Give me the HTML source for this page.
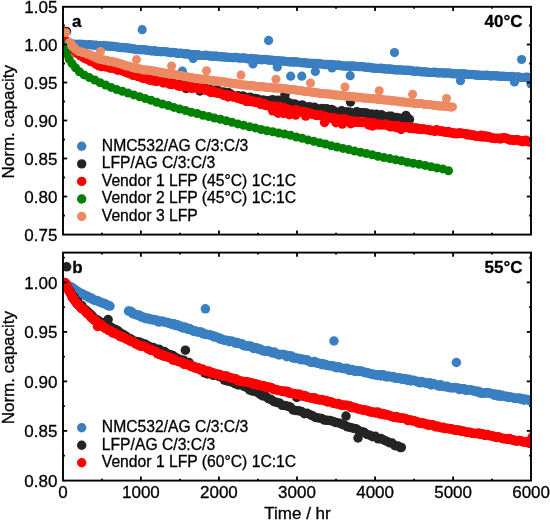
<!DOCTYPE html>
<html><head><meta charset="utf-8"><style>
html,body{margin:0;padding:0;background:#fff;}
svg{display:block;will-change:transform;font-family:"Liberation Sans",sans-serif;font-size:17px;fill:#000;}
text{stroke:#000;stroke-width:0.3px;}
</style></head><body>
<svg width="550" height="521" viewBox="0 0 550 521">
<defs>
<clipPath id="ca"><rect x="63" y="6.8" width="468" height="227.8"/></clipPath>
<clipPath id="cb"><rect x="63" y="252.6" width="468" height="228"/></clipPath>
</defs>
<g fill="#3a7fc1" clip-path="url(#ca)"><circle cx="64.0" cy="43.6" r="4.6"/><circle cx="65.6" cy="43.6" r="4.6"/><circle cx="67.2" cy="43.9" r="4.6"/><circle cx="68.8" cy="44.1" r="4.6"/><circle cx="70.4" cy="44.1" r="4.6"/><circle cx="72.0" cy="43.9" r="4.6"/><circle cx="73.6" cy="44.6" r="4.6"/><circle cx="75.2" cy="44.1" r="4.6"/><circle cx="76.8" cy="44.8" r="4.6"/><circle cx="78.4" cy="44.4" r="4.6"/><circle cx="80.0" cy="44.2" r="4.6"/><circle cx="81.6" cy="44.5" r="4.6"/><circle cx="83.2" cy="44.4" r="4.6"/><circle cx="84.8" cy="45.0" r="4.6"/><circle cx="86.4" cy="44.9" r="4.6"/><circle cx="88.0" cy="44.8" r="4.6"/><circle cx="89.6" cy="44.6" r="4.6"/><circle cx="91.2" cy="44.8" r="4.6"/><circle cx="92.8" cy="45.1" r="4.6"/><circle cx="94.4" cy="45.3" r="4.6"/><circle cx="96.0" cy="45.1" r="4.6"/><circle cx="97.6" cy="45.5" r="4.6"/><circle cx="99.2" cy="45.5" r="4.6"/><circle cx="100.8" cy="45.8" r="4.6"/><circle cx="102.4" cy="45.5" r="4.6"/><circle cx="104.0" cy="45.4" r="4.6"/><circle cx="105.6" cy="46.0" r="4.6"/><circle cx="107.1" cy="45.9" r="4.6"/><circle cx="108.7" cy="46.2" r="4.6"/><circle cx="110.3" cy="46.3" r="4.6"/><circle cx="111.9" cy="46.2" r="4.6"/><circle cx="113.5" cy="46.5" r="4.6"/><circle cx="115.1" cy="46.6" r="4.6"/><circle cx="116.7" cy="47.1" r="4.6"/><circle cx="118.3" cy="47.1" r="4.6"/><circle cx="119.9" cy="47.3" r="4.6"/><circle cx="121.5" cy="47.7" r="4.6"/><circle cx="123.1" cy="47.3" r="4.6"/><circle cx="124.7" cy="47.8" r="4.6"/><circle cx="126.2" cy="47.9" r="4.6"/><circle cx="127.8" cy="47.8" r="4.6"/><circle cx="129.4" cy="48.6" r="4.6"/><circle cx="131.0" cy="48.3" r="4.6"/><circle cx="132.6" cy="49.0" r="4.6"/><circle cx="134.2" cy="48.9" r="4.6"/><circle cx="135.8" cy="49.4" r="4.6"/><circle cx="137.4" cy="49.6" r="4.6"/><circle cx="139.0" cy="49.4" r="4.6"/><circle cx="140.5" cy="49.9" r="4.6"/><circle cx="142.1" cy="49.5" r="4.6"/><circle cx="143.7" cy="49.7" r="4.6"/><circle cx="145.3" cy="50.1" r="4.6"/><circle cx="146.9" cy="50.1" r="4.6"/><circle cx="148.5" cy="50.4" r="4.6"/><circle cx="150.1" cy="50.7" r="4.6"/><circle cx="151.7" cy="50.9" r="4.6"/><circle cx="153.3" cy="51.0" r="4.6"/><circle cx="154.9" cy="50.7" r="4.6"/><circle cx="156.5" cy="51.5" r="4.6"/><circle cx="158.1" cy="51.6" r="4.6"/><circle cx="159.6" cy="51.4" r="4.6"/><circle cx="161.2" cy="51.8" r="4.6"/><circle cx="162.8" cy="51.5" r="4.6"/><circle cx="164.4" cy="51.7" r="4.6"/><circle cx="166.0" cy="51.8" r="4.6"/><circle cx="167.6" cy="52.0" r="4.6"/><circle cx="169.2" cy="52.3" r="4.6"/><circle cx="170.8" cy="52.8" r="4.6"/><circle cx="172.4" cy="52.4" r="4.6"/><circle cx="174.0" cy="52.7" r="4.6"/><circle cx="175.6" cy="52.7" r="4.6"/><circle cx="177.2" cy="53.5" r="4.6"/><circle cx="178.8" cy="53.3" r="4.6"/><circle cx="180.4" cy="53.1" r="4.6"/><circle cx="182.0" cy="53.4" r="4.6"/><circle cx="183.5" cy="53.5" r="4.6"/><circle cx="185.1" cy="54.2" r="4.6"/><circle cx="186.7" cy="53.7" r="4.6"/><circle cx="188.3" cy="53.8" r="4.6"/><circle cx="189.9" cy="54.7" r="4.6"/><circle cx="191.5" cy="54.6" r="4.6"/><circle cx="193.1" cy="54.5" r="4.6"/><circle cx="194.7" cy="54.9" r="4.6"/><circle cx="196.3" cy="55.1" r="4.6"/><circle cx="197.9" cy="54.7" r="4.6"/><circle cx="199.5" cy="55.5" r="4.6"/><circle cx="201.1" cy="55.5" r="4.6"/><circle cx="202.7" cy="55.5" r="4.6"/><circle cx="204.3" cy="55.5" r="4.6"/><circle cx="205.9" cy="55.2" r="4.6"/><circle cx="207.5" cy="55.5" r="4.6"/><circle cx="209.1" cy="56.0" r="4.6"/><circle cx="210.7" cy="55.9" r="4.6"/><circle cx="212.3" cy="56.4" r="4.6"/><circle cx="213.8" cy="56.1" r="4.6"/><circle cx="215.4" cy="56.1" r="4.6"/><circle cx="217.0" cy="56.2" r="4.6"/><circle cx="218.6" cy="56.8" r="4.6"/><circle cx="220.2" cy="56.6" r="4.6"/><circle cx="221.8" cy="56.9" r="4.6"/><circle cx="223.4" cy="56.9" r="4.6"/><circle cx="225.0" cy="57.1" r="4.6"/><circle cx="226.6" cy="57.0" r="4.6"/><circle cx="228.2" cy="57.4" r="4.6"/><circle cx="229.8" cy="57.5" r="4.6"/><circle cx="231.4" cy="57.3" r="4.6"/><circle cx="233.0" cy="57.8" r="4.6"/><circle cx="234.6" cy="57.3" r="4.6"/><circle cx="236.2" cy="57.4" r="4.6"/><circle cx="237.8" cy="58.0" r="4.6"/><circle cx="239.4" cy="58.1" r="4.6"/><circle cx="241.0" cy="58.1" r="4.6"/><circle cx="242.6" cy="58.1" r="4.6"/><circle cx="244.2" cy="57.8" r="4.6"/><circle cx="245.8" cy="58.4" r="4.6"/><circle cx="247.4" cy="58.8" r="4.6"/><circle cx="249.0" cy="58.8" r="4.6"/><circle cx="250.6" cy="58.4" r="4.6"/><circle cx="252.2" cy="58.6" r="4.6"/><circle cx="253.8" cy="58.9" r="4.6"/><circle cx="255.4" cy="58.9" r="4.6"/><circle cx="256.9" cy="59.4" r="4.6"/><circle cx="258.5" cy="59.2" r="4.6"/><circle cx="260.1" cy="59.7" r="4.6"/><circle cx="261.7" cy="59.8" r="4.6"/><circle cx="263.3" cy="59.6" r="4.6"/><circle cx="264.9" cy="59.3" r="4.6"/><circle cx="266.5" cy="59.6" r="4.6"/><circle cx="268.1" cy="60.2" r="4.6"/><circle cx="269.7" cy="60.1" r="4.6"/><circle cx="271.3" cy="60.2" r="4.6"/><circle cx="272.9" cy="60.3" r="4.6"/><circle cx="274.5" cy="60.7" r="4.6"/><circle cx="276.1" cy="60.6" r="4.6"/><circle cx="277.7" cy="60.5" r="4.6"/><circle cx="279.3" cy="60.8" r="4.6"/><circle cx="280.9" cy="61.1" r="4.6"/><circle cx="282.5" cy="61.0" r="4.6"/><circle cx="284.1" cy="61.2" r="4.6"/><circle cx="285.7" cy="61.5" r="4.6"/><circle cx="287.3" cy="61.5" r="4.6"/><circle cx="288.9" cy="61.9" r="4.6"/><circle cx="290.4" cy="62.0" r="4.6"/><circle cx="292.0" cy="61.6" r="4.6"/><circle cx="293.6" cy="62.3" r="4.6"/><circle cx="295.2" cy="61.7" r="4.6"/><circle cx="296.8" cy="62.1" r="4.6"/><circle cx="298.4" cy="62.1" r="4.6"/><circle cx="300.0" cy="62.5" r="4.6"/><circle cx="301.6" cy="62.8" r="4.6"/><circle cx="303.2" cy="62.8" r="4.6"/><circle cx="304.8" cy="62.5" r="4.6"/><circle cx="306.4" cy="63.3" r="4.6"/><circle cx="308.0" cy="63.4" r="4.6"/><circle cx="309.6" cy="63.1" r="4.6"/><circle cx="311.2" cy="63.5" r="4.6"/><circle cx="312.8" cy="63.3" r="4.6"/><circle cx="314.4" cy="63.4" r="4.6"/><circle cx="316.0" cy="63.5" r="4.6"/><circle cx="317.6" cy="63.3" r="4.6"/><circle cx="319.2" cy="63.8" r="4.6"/><circle cx="320.8" cy="63.8" r="4.6"/><circle cx="322.4" cy="64.1" r="4.6"/><circle cx="324.0" cy="64.6" r="4.6"/><circle cx="325.5" cy="64.7" r="4.6"/><circle cx="327.1" cy="64.3" r="4.6"/><circle cx="328.7" cy="64.8" r="4.6"/><circle cx="330.3" cy="64.4" r="4.6"/><circle cx="331.9" cy="65.1" r="4.6"/><circle cx="333.5" cy="64.7" r="4.6"/><circle cx="335.1" cy="65.4" r="4.6"/><circle cx="336.7" cy="65.3" r="4.6"/><circle cx="338.3" cy="64.9" r="4.6"/><circle cx="339.9" cy="65.3" r="4.6"/><circle cx="341.5" cy="65.9" r="4.6"/><circle cx="343.1" cy="65.9" r="4.6"/><circle cx="344.7" cy="66.0" r="4.6"/><circle cx="346.3" cy="66.2" r="4.6"/><circle cx="347.9" cy="65.9" r="4.6"/><circle cx="349.5" cy="66.5" r="4.6"/><circle cx="351.1" cy="65.9" r="4.6"/><circle cx="352.7" cy="66.1" r="4.6"/><circle cx="354.3" cy="66.2" r="4.6"/><circle cx="355.9" cy="66.4" r="4.6"/><circle cx="357.5" cy="66.6" r="4.6"/><circle cx="359.1" cy="66.7" r="4.6"/><circle cx="360.7" cy="66.7" r="4.6"/><circle cx="362.2" cy="66.7" r="4.6"/><circle cx="363.8" cy="66.8" r="4.6"/><circle cx="365.4" cy="67.3" r="4.6"/><circle cx="367.0" cy="67.4" r="4.6"/><circle cx="368.6" cy="67.2" r="4.6"/><circle cx="370.2" cy="67.6" r="4.6"/><circle cx="371.8" cy="68.1" r="4.6"/><circle cx="373.4" cy="67.9" r="4.6"/><circle cx="375.0" cy="68.4" r="4.6"/><circle cx="376.6" cy="68.4" r="4.6"/><circle cx="378.2" cy="68.4" r="4.6"/><circle cx="379.8" cy="68.3" r="4.6"/><circle cx="381.4" cy="68.2" r="4.6"/><circle cx="383.0" cy="68.9" r="4.6"/><circle cx="384.6" cy="68.5" r="4.6"/><circle cx="386.2" cy="69.2" r="4.6"/><circle cx="387.8" cy="69.2" r="4.6"/><circle cx="389.4" cy="68.9" r="4.6"/><circle cx="391.0" cy="69.2" r="4.6"/><circle cx="392.6" cy="69.4" r="4.6"/><circle cx="394.2" cy="69.9" r="4.6"/><circle cx="395.7" cy="69.7" r="4.6"/><circle cx="397.3" cy="70.1" r="4.6"/><circle cx="398.9" cy="69.8" r="4.6"/><circle cx="400.5" cy="69.9" r="4.6"/><circle cx="402.1" cy="70.1" r="4.6"/><circle cx="403.7" cy="70.3" r="4.6"/><circle cx="405.3" cy="70.2" r="4.6"/><circle cx="406.9" cy="70.4" r="4.6"/><circle cx="408.5" cy="70.2" r="4.6"/><circle cx="410.1" cy="70.5" r="4.6"/><circle cx="411.7" cy="70.9" r="4.6"/><circle cx="413.3" cy="71.1" r="4.6"/><circle cx="414.9" cy="71.4" r="4.6"/><circle cx="416.5" cy="71.1" r="4.6"/><circle cx="418.1" cy="71.0" r="4.6"/><circle cx="419.7" cy="71.6" r="4.6"/><circle cx="421.3" cy="71.8" r="4.6"/><circle cx="422.9" cy="71.8" r="4.6"/><circle cx="424.5" cy="72.0" r="4.6"/><circle cx="426.1" cy="71.9" r="4.6"/><circle cx="427.7" cy="72.3" r="4.6"/><circle cx="429.3" cy="72.4" r="4.6"/><circle cx="430.9" cy="72.5" r="4.6"/><circle cx="432.4" cy="72.5" r="4.6"/><circle cx="434.0" cy="72.0" r="4.6"/><circle cx="435.6" cy="72.4" r="4.6"/><circle cx="437.2" cy="72.9" r="4.6"/><circle cx="438.8" cy="72.8" r="4.6"/><circle cx="440.4" cy="73.0" r="4.6"/><circle cx="442.0" cy="72.5" r="4.6"/><circle cx="443.6" cy="73.2" r="4.6"/><circle cx="445.2" cy="73.1" r="4.6"/><circle cx="446.8" cy="72.9" r="4.6"/><circle cx="448.4" cy="73.1" r="4.6"/><circle cx="450.0" cy="73.2" r="4.6"/><circle cx="451.6" cy="73.3" r="4.6"/><circle cx="453.2" cy="74.0" r="4.6"/><circle cx="454.8" cy="73.6" r="4.6"/><circle cx="456.4" cy="73.9" r="4.6"/><circle cx="458.0" cy="74.0" r="4.6"/><circle cx="459.6" cy="73.6" r="4.6"/><circle cx="461.2" cy="73.9" r="4.6"/><circle cx="462.8" cy="74.0" r="4.6"/><circle cx="464.4" cy="73.9" r="4.6"/><circle cx="466.0" cy="74.2" r="4.6"/><circle cx="467.6" cy="74.6" r="4.6"/><circle cx="469.2" cy="74.4" r="4.6"/><circle cx="470.8" cy="74.6" r="4.6"/><circle cx="472.4" cy="74.4" r="4.6"/><circle cx="474.0" cy="74.6" r="4.6"/><circle cx="475.6" cy="75.2" r="4.6"/><circle cx="477.2" cy="74.9" r="4.6"/><circle cx="478.8" cy="75.4" r="4.6"/><circle cx="480.4" cy="75.0" r="4.6"/><circle cx="482.0" cy="75.6" r="4.6"/><circle cx="483.6" cy="75.4" r="4.6"/><circle cx="485.2" cy="75.4" r="4.6"/><circle cx="486.8" cy="75.2" r="4.6"/><circle cx="488.4" cy="75.6" r="4.6"/><circle cx="490.0" cy="75.8" r="4.6"/><circle cx="491.5" cy="76.1" r="4.6"/><circle cx="493.1" cy="75.5" r="4.6"/><circle cx="494.7" cy="75.9" r="4.6"/><circle cx="496.3" cy="75.8" r="4.6"/><circle cx="497.9" cy="75.9" r="4.6"/><circle cx="499.5" cy="76.4" r="4.6"/><circle cx="501.1" cy="76.4" r="4.6"/><circle cx="502.7" cy="76.0" r="4.6"/><circle cx="504.3" cy="76.6" r="4.6"/><circle cx="505.9" cy="76.3" r="4.6"/><circle cx="507.5" cy="76.5" r="4.6"/><circle cx="509.1" cy="76.7" r="4.6"/><circle cx="510.7" cy="76.6" r="4.6"/><circle cx="512.3" cy="76.4" r="4.6"/><circle cx="513.9" cy="77.1" r="4.6"/><circle cx="515.5" cy="77.3" r="4.6"/><circle cx="517.1" cy="76.8" r="4.6"/><circle cx="518.7" cy="76.8" r="4.6"/><circle cx="520.3" cy="77.5" r="4.6"/><circle cx="521.9" cy="77.5" r="4.6"/><circle cx="523.5" cy="77.6" r="4.6"/><circle cx="525.1" cy="77.4" r="4.6"/><circle cx="526.7" cy="77.1" r="4.6"/><circle cx="528.3" cy="77.4" r="4.6"/><circle cx="529.9" cy="77.7" r="4.6"/><circle cx="531.0" cy="77.6" r="4.6"/><circle cx="142.2" cy="29.7" r="4.6"/><circle cx="182.4" cy="71.2" r="4.6"/><circle cx="193.2" cy="58.6" r="4.6"/><circle cx="253.0" cy="64.0" r="4.6"/><circle cx="268.6" cy="40.4" r="4.6"/><circle cx="277.3" cy="67.0" r="4.6"/><circle cx="290.7" cy="76.2" r="4.6"/><circle cx="301.8" cy="76.2" r="4.6"/><circle cx="315.3" cy="71.4" r="4.6"/><circle cx="332.0" cy="68.0" r="4.6"/><circle cx="350.2" cy="75.7" r="4.6"/><circle cx="394.5" cy="52.6" r="4.6"/><circle cx="460.5" cy="80.7" r="4.6"/><circle cx="514.5" cy="82.0" r="4.6"/><circle cx="521.6" cy="59.5" r="4.6"/><circle cx="531.0" cy="84.0" r="4.6"/></g>
<g fill="#242424" clip-path="url(#ca)"><circle cx="66.4" cy="31.4" r="4.75"/><circle cx="64.0" cy="38.9" r="4.75"/><circle cx="65.7" cy="40.9" r="4.75"/><circle cx="67.4" cy="43.2" r="4.75"/><circle cx="69.2" cy="45.9" r="4.75"/><circle cx="71.0" cy="46.4" r="4.75"/><circle cx="72.9" cy="48.1" r="4.75"/><circle cx="74.8" cy="49.7" r="4.75"/><circle cx="77.0" cy="50.3" r="4.75"/><circle cx="79.2" cy="53.2" r="4.75"/><circle cx="81.4" cy="52.6" r="4.75"/><circle cx="83.7" cy="55.5" r="4.75"/><circle cx="86.0" cy="54.3" r="4.75"/><circle cx="88.4" cy="55.1" r="4.75"/><circle cx="90.7" cy="55.9" r="4.75"/><circle cx="93.1" cy="57.1" r="4.75"/><circle cx="95.4" cy="59.4" r="4.75"/><circle cx="97.8" cy="59.1" r="4.75"/><circle cx="100.2" cy="60.1" r="4.75"/><circle cx="102.6" cy="60.5" r="4.75"/><circle cx="104.9" cy="61.1" r="4.75"/><circle cx="107.3" cy="61.5" r="4.75"/><circle cx="109.7" cy="63.5" r="4.75"/><circle cx="112.1" cy="63.2" r="4.75"/><circle cx="114.5" cy="64.0" r="4.75"/><circle cx="116.9" cy="65.2" r="4.75"/><circle cx="119.3" cy="66.9" r="4.75"/><circle cx="121.7" cy="65.6" r="4.75"/><circle cx="124.1" cy="67.9" r="4.75"/><circle cx="126.5" cy="68.1" r="4.75"/><circle cx="128.9" cy="67.6" r="4.75"/><circle cx="131.3" cy="70.5" r="4.75"/><circle cx="133.7" cy="71.0" r="4.75"/><circle cx="136.1" cy="70.2" r="4.75"/><circle cx="138.5" cy="70.6" r="4.75"/><circle cx="140.9" cy="72.5" r="4.75"/><circle cx="143.3" cy="73.2" r="4.75"/><circle cx="145.8" cy="74.0" r="4.75"/><circle cx="148.2" cy="74.1" r="4.75"/><circle cx="150.6" cy="75.3" r="4.75"/><circle cx="153.0" cy="76.3" r="4.75"/><circle cx="155.4" cy="75.5" r="4.75"/><circle cx="157.8" cy="76.0" r="4.75"/><circle cx="160.3" cy="77.7" r="4.75"/><circle cx="162.7" cy="76.8" r="4.75"/><circle cx="165.1" cy="78.7" r="4.75"/><circle cx="167.5" cy="78.4" r="4.75"/><circle cx="169.9" cy="78.5" r="4.75"/><circle cx="172.4" cy="80.2" r="4.75"/><circle cx="174.8" cy="81.3" r="4.75"/><circle cx="177.2" cy="81.5" r="4.75"/><circle cx="179.6" cy="81.5" r="4.75"/><circle cx="182.1" cy="83.2" r="4.75"/><circle cx="184.5" cy="82.1" r="4.75"/><circle cx="186.9" cy="84.3" r="4.75"/><circle cx="189.4" cy="83.9" r="4.75"/><circle cx="191.8" cy="86.1" r="4.75"/><circle cx="194.2" cy="84.5" r="4.75"/><circle cx="196.7" cy="86.0" r="4.75"/><circle cx="199.1" cy="86.1" r="4.75"/><circle cx="201.5" cy="87.9" r="4.75"/><circle cx="204.0" cy="87.2" r="4.75"/><circle cx="206.4" cy="88.0" r="4.75"/><circle cx="208.8" cy="88.3" r="4.75"/><circle cx="211.3" cy="90.2" r="4.75"/><circle cx="213.7" cy="91.1" r="4.75"/><circle cx="216.2" cy="89.9" r="4.75"/><circle cx="218.6" cy="91.0" r="4.75"/><circle cx="221.0" cy="92.8" r="4.75"/><circle cx="223.5" cy="92.1" r="4.75"/><circle cx="225.9" cy="94.1" r="4.75"/><circle cx="228.3" cy="92.6" r="4.75"/><circle cx="230.7" cy="94.0" r="4.75"/><circle cx="233.1" cy="95.8" r="4.75"/><circle cx="235.6" cy="96.7" r="4.75"/><circle cx="238.0" cy="95.7" r="4.75"/><circle cx="240.4" cy="97.6" r="4.75"/><circle cx="242.9" cy="96.0" r="4.75"/><circle cx="245.3" cy="97.3" r="4.75"/><circle cx="247.8" cy="97.7" r="4.75"/><circle cx="250.2" cy="97.3" r="4.75"/><circle cx="252.7" cy="98.6" r="4.75"/><circle cx="255.2" cy="98.5" r="4.75"/><circle cx="257.6" cy="99.0" r="4.75"/><circle cx="260.1" cy="100.8" r="4.75"/><circle cx="262.6" cy="100.1" r="4.75"/><circle cx="265.1" cy="100.4" r="4.75"/><circle cx="267.6" cy="101.6" r="4.75"/><circle cx="270.1" cy="100.5" r="4.75"/><circle cx="272.6" cy="99.8" r="4.75"/><circle cx="275.1" cy="101.8" r="4.75"/><circle cx="277.6" cy="100.2" r="4.75"/><circle cx="280.0" cy="100.4" r="4.75"/><circle cx="282.5" cy="101.1" r="4.75"/><circle cx="285.0" cy="103.0" r="4.75"/><circle cx="287.5" cy="101.9" r="4.75"/><circle cx="289.9" cy="103.4" r="4.75"/><circle cx="292.3" cy="104.3" r="4.75"/><circle cx="294.7" cy="103.9" r="4.75"/><circle cx="297.2" cy="105.6" r="4.75"/><circle cx="299.6" cy="105.9" r="4.75"/><circle cx="302.1" cy="104.9" r="4.75"/><circle cx="304.5" cy="106.5" r="4.75"/><circle cx="307.0" cy="108.1" r="4.75"/><circle cx="309.4" cy="106.8" r="4.75"/><circle cx="311.9" cy="107.7" r="4.75"/><circle cx="314.4" cy="107.2" r="4.75"/><circle cx="316.9" cy="108.9" r="4.75"/><circle cx="319.3" cy="109.3" r="4.75"/><circle cx="321.8" cy="108.6" r="4.75"/><circle cx="324.3" cy="109.1" r="4.75"/><circle cx="326.8" cy="108.8" r="4.75"/><circle cx="329.2" cy="110.8" r="4.75"/><circle cx="331.7" cy="109.5" r="4.75"/><circle cx="334.2" cy="111.0" r="4.75"/><circle cx="336.6" cy="112.4" r="4.75"/><circle cx="339.1" cy="112.7" r="4.75"/><circle cx="341.6" cy="110.8" r="4.75"/><circle cx="344.1" cy="112.0" r="4.75"/><circle cx="346.6" cy="112.0" r="4.75"/><circle cx="349.1" cy="112.1" r="4.75"/><circle cx="351.6" cy="112.8" r="4.75"/><circle cx="354.1" cy="113.4" r="4.75"/><circle cx="356.6" cy="111.8" r="4.75"/><circle cx="359.1" cy="112.4" r="4.75"/><circle cx="361.6" cy="112.8" r="4.75"/><circle cx="364.1" cy="112.7" r="4.75"/><circle cx="366.5" cy="113.1" r="4.75"/><circle cx="369.0" cy="114.9" r="4.75"/><circle cx="371.5" cy="113.9" r="4.75"/><circle cx="374.0" cy="115.8" r="4.75"/><circle cx="376.5" cy="114.3" r="4.75"/><circle cx="378.9" cy="115.7" r="4.75"/><circle cx="381.4" cy="114.7" r="4.75"/><circle cx="383.9" cy="116.8" r="4.75"/><circle cx="386.4" cy="117.3" r="4.75"/><circle cx="388.8" cy="116.2" r="4.75"/><circle cx="391.3" cy="116.3" r="4.75"/><circle cx="393.8" cy="117.6" r="4.75"/><circle cx="396.3" cy="117.4" r="4.75"/><circle cx="398.7" cy="117.9" r="4.75"/><circle cx="401.2" cy="119.0" r="4.75"/><circle cx="403.7" cy="117.8" r="4.75"/><circle cx="406.2" cy="119.3" r="4.75"/><circle cx="408.7" cy="119.1" r="4.75"/><circle cx="409.5" cy="119.5" r="4.75"/><circle cx="285.0" cy="94.8" r="4.75"/><circle cx="350.5" cy="101.9" r="4.75"/><circle cx="406.0" cy="115.5" r="4.75"/><circle cx="186.0" cy="88.5" r="4.75"/><circle cx="200.0" cy="91.0" r="4.75"/></g>
<g fill="#ff0000" clip-path="url(#ca)"><circle cx="64.0" cy="39.1" r="4.75"/><circle cx="64.9" cy="41.0" r="4.75"/><circle cx="65.9" cy="41.4" r="4.75"/><circle cx="66.8" cy="42.8" r="4.75"/><circle cx="67.8" cy="43.6" r="4.75"/><circle cx="68.8" cy="44.8" r="4.75"/><circle cx="69.8" cy="46.4" r="4.75"/><circle cx="70.9" cy="46.7" r="4.75"/><circle cx="72.0" cy="48.5" r="4.75"/><circle cx="73.1" cy="48.7" r="4.75"/><circle cx="74.2" cy="50.7" r="4.75"/><circle cx="75.4" cy="50.9" r="4.75"/><circle cx="76.5" cy="53.0" r="4.75"/><circle cx="77.7" cy="53.2" r="4.75"/><circle cx="78.9" cy="53.8" r="4.75"/><circle cx="80.2" cy="55.7" r="4.75"/><circle cx="81.5" cy="55.0" r="4.75"/><circle cx="82.7" cy="55.8" r="4.75"/><circle cx="84.0" cy="57.8" r="4.75"/><circle cx="85.3" cy="58.4" r="4.75"/><circle cx="86.7" cy="59.2" r="4.75"/><circle cx="88.0" cy="58.6" r="4.75"/><circle cx="89.3" cy="60.0" r="4.75"/><circle cx="90.6" cy="61.3" r="4.75"/><circle cx="92.0" cy="61.5" r="4.75"/><circle cx="93.3" cy="62.0" r="4.75"/><circle cx="94.6" cy="62.3" r="4.75"/><circle cx="95.9" cy="64.2" r="4.75"/><circle cx="97.3" cy="64.1" r="4.75"/><circle cx="98.6" cy="65.6" r="4.75"/><circle cx="100.0" cy="64.6" r="4.75"/><circle cx="101.4" cy="66.6" r="4.75"/><circle cx="102.8" cy="65.3" r="4.75"/><circle cx="104.3" cy="66.2" r="4.75"/><circle cx="105.8" cy="67.0" r="4.75"/><circle cx="107.2" cy="66.4" r="4.75"/><circle cx="108.7" cy="66.8" r="4.75"/><circle cx="110.2" cy="68.2" r="4.75"/><circle cx="111.6" cy="67.3" r="4.75"/><circle cx="113.1" cy="68.1" r="4.75"/><circle cx="114.6" cy="68.4" r="4.75"/><circle cx="116.0" cy="68.6" r="4.75"/><circle cx="117.5" cy="70.1" r="4.75"/><circle cx="118.9" cy="69.9" r="4.75"/><circle cx="120.4" cy="69.4" r="4.75"/><circle cx="121.8" cy="69.9" r="4.75"/><circle cx="123.2" cy="71.2" r="4.75"/><circle cx="124.7" cy="71.2" r="4.75"/><circle cx="126.1" cy="72.2" r="4.75"/><circle cx="127.5" cy="72.8" r="4.75"/><circle cx="128.9" cy="73.0" r="4.75"/><circle cx="130.3" cy="73.8" r="4.75"/><circle cx="131.7" cy="73.7" r="4.75"/><circle cx="133.1" cy="75.3" r="4.75"/><circle cx="134.5" cy="74.7" r="4.75"/><circle cx="135.9" cy="75.1" r="4.75"/><circle cx="137.3" cy="76.2" r="4.75"/><circle cx="138.7" cy="76.7" r="4.75"/><circle cx="140.1" cy="76.4" r="4.75"/><circle cx="141.6" cy="76.9" r="4.75"/><circle cx="143.0" cy="78.5" r="4.75"/><circle cx="144.5" cy="77.5" r="4.75"/><circle cx="146.0" cy="78.3" r="4.75"/><circle cx="147.4" cy="78.2" r="4.75"/><circle cx="148.9" cy="80.0" r="4.75"/><circle cx="150.4" cy="79.9" r="4.75"/><circle cx="151.9" cy="80.5" r="4.75"/><circle cx="153.3" cy="80.8" r="4.75"/><circle cx="154.8" cy="79.7" r="4.75"/><circle cx="156.3" cy="81.4" r="4.75"/><circle cx="157.7" cy="80.6" r="4.75"/><circle cx="159.2" cy="80.6" r="4.75"/><circle cx="160.7" cy="81.1" r="4.75"/><circle cx="162.1" cy="81.2" r="4.75"/><circle cx="163.6" cy="82.9" r="4.75"/><circle cx="165.1" cy="82.0" r="4.75"/><circle cx="166.5" cy="82.4" r="4.75"/><circle cx="168.0" cy="82.5" r="4.75"/><circle cx="169.5" cy="84.1" r="4.75"/><circle cx="171.0" cy="84.3" r="4.75"/><circle cx="172.4" cy="84.4" r="4.75"/><circle cx="173.9" cy="84.3" r="4.75"/><circle cx="175.4" cy="84.2" r="4.75"/><circle cx="176.8" cy="84.9" r="4.75"/><circle cx="178.3" cy="85.8" r="4.75"/><circle cx="179.8" cy="86.2" r="4.75"/><circle cx="181.3" cy="85.4" r="4.75"/><circle cx="182.7" cy="85.5" r="4.75"/><circle cx="184.2" cy="86.3" r="4.75"/><circle cx="185.7" cy="86.9" r="4.75"/><circle cx="187.2" cy="86.1" r="4.75"/><circle cx="188.6" cy="86.2" r="4.75"/><circle cx="190.1" cy="86.8" r="4.75"/><circle cx="191.6" cy="88.3" r="4.75"/><circle cx="193.1" cy="87.9" r="4.75"/><circle cx="194.6" cy="87.0" r="4.75"/><circle cx="196.1" cy="87.4" r="4.75"/><circle cx="197.5" cy="88.1" r="4.75"/><circle cx="199.0" cy="89.2" r="4.75"/><circle cx="200.5" cy="88.2" r="4.75"/><circle cx="202.0" cy="88.1" r="4.75"/><circle cx="203.5" cy="89.0" r="4.75"/><circle cx="204.9" cy="89.3" r="4.75"/><circle cx="206.4" cy="90.1" r="4.75"/><circle cx="207.8" cy="89.8" r="4.75"/><circle cx="209.3" cy="90.6" r="4.75"/><circle cx="210.8" cy="91.8" r="4.75"/><circle cx="212.2" cy="90.8" r="4.75"/><circle cx="213.7" cy="92.1" r="4.75"/><circle cx="215.1" cy="92.7" r="4.75"/><circle cx="216.5" cy="92.2" r="4.75"/><circle cx="218.0" cy="93.3" r="4.75"/><circle cx="219.5" cy="93.1" r="4.75"/><circle cx="220.9" cy="93.6" r="4.75"/><circle cx="222.4" cy="94.5" r="4.75"/><circle cx="223.8" cy="95.2" r="4.75"/><circle cx="225.3" cy="94.8" r="4.75"/><circle cx="226.7" cy="94.7" r="4.75"/><circle cx="228.2" cy="96.0" r="4.75"/><circle cx="229.7" cy="95.9" r="4.75"/><circle cx="231.1" cy="95.5" r="4.75"/><circle cx="232.6" cy="96.7" r="4.75"/><circle cx="234.0" cy="97.1" r="4.75"/><circle cx="235.5" cy="96.6" r="4.75"/><circle cx="237.0" cy="97.2" r="4.75"/><circle cx="238.4" cy="98.6" r="4.75"/><circle cx="239.9" cy="98.7" r="4.75"/><circle cx="241.3" cy="99.2" r="4.75"/><circle cx="242.8" cy="98.9" r="4.75"/><circle cx="244.2" cy="99.2" r="4.75"/><circle cx="245.7" cy="99.0" r="4.75"/><circle cx="247.2" cy="99.2" r="4.75"/><circle cx="248.6" cy="100.8" r="4.75"/><circle cx="250.1" cy="101.4" r="4.75"/><circle cx="251.5" cy="100.7" r="4.75"/><circle cx="253.0" cy="101.3" r="4.75"/><circle cx="254.4" cy="101.9" r="4.75"/><circle cx="255.9" cy="102.4" r="4.75"/><circle cx="257.4" cy="102.0" r="4.75"/><circle cx="258.8" cy="102.0" r="4.75"/><circle cx="260.3" cy="102.8" r="4.75"/><circle cx="261.7" cy="104.4" r="4.75"/><circle cx="263.2" cy="103.6" r="4.75"/><circle cx="264.6" cy="104.0" r="4.75"/><circle cx="266.1" cy="105.4" r="4.75"/><circle cx="267.6" cy="105.3" r="4.75"/><circle cx="269.0" cy="106.1" r="4.75"/><circle cx="270.5" cy="106.2" r="4.75"/><circle cx="272.0" cy="106.6" r="4.75"/><circle cx="273.4" cy="106.6" r="4.75"/><circle cx="274.9" cy="106.2" r="4.75"/><circle cx="276.4" cy="107.1" r="4.75"/><circle cx="277.8" cy="107.9" r="4.75"/><circle cx="279.3" cy="106.6" r="4.75"/><circle cx="280.8" cy="108.5" r="4.75"/><circle cx="282.2" cy="107.4" r="4.75"/><circle cx="283.7" cy="107.5" r="4.75"/><circle cx="285.2" cy="108.8" r="4.75"/><circle cx="286.7" cy="109.3" r="4.75"/><circle cx="288.1" cy="109.3" r="4.75"/><circle cx="289.6" cy="110.0" r="4.75"/><circle cx="291.1" cy="110.5" r="4.75"/><circle cx="292.6" cy="110.7" r="4.75"/><circle cx="294.0" cy="111.1" r="4.75"/><circle cx="295.5" cy="110.1" r="4.75"/><circle cx="297.0" cy="110.1" r="4.75"/><circle cx="298.4" cy="111.8" r="4.75"/><circle cx="299.9" cy="112.1" r="4.75"/><circle cx="301.4" cy="111.4" r="4.75"/><circle cx="302.9" cy="111.4" r="4.75"/><circle cx="304.3" cy="111.8" r="4.75"/><circle cx="305.8" cy="112.5" r="4.75"/><circle cx="307.3" cy="112.6" r="4.75"/><circle cx="308.7" cy="113.7" r="4.75"/><circle cx="310.2" cy="113.3" r="4.75"/><circle cx="311.7" cy="113.9" r="4.75"/><circle cx="313.1" cy="114.4" r="4.75"/><circle cx="314.6" cy="114.4" r="4.75"/><circle cx="316.1" cy="115.3" r="4.75"/><circle cx="317.5" cy="115.5" r="4.75"/><circle cx="319.0" cy="114.9" r="4.75"/><circle cx="320.5" cy="115.0" r="4.75"/><circle cx="322.0" cy="115.4" r="4.75"/><circle cx="323.4" cy="115.8" r="4.75"/><circle cx="324.9" cy="117.4" r="4.75"/><circle cx="326.4" cy="116.8" r="4.75"/><circle cx="327.8" cy="117.7" r="4.75"/><circle cx="329.3" cy="117.4" r="4.75"/><circle cx="330.8" cy="118.2" r="4.75"/><circle cx="332.3" cy="118.7" r="4.75"/><circle cx="333.8" cy="117.6" r="4.75"/><circle cx="335.2" cy="118.4" r="4.75"/><circle cx="336.7" cy="118.9" r="4.75"/><circle cx="338.2" cy="119.4" r="4.75"/><circle cx="339.7" cy="119.6" r="4.75"/><circle cx="341.2" cy="119.1" r="4.75"/><circle cx="342.6" cy="119.4" r="4.75"/><circle cx="344.1" cy="119.0" r="4.75"/><circle cx="345.6" cy="119.1" r="4.75"/><circle cx="347.1" cy="119.8" r="4.75"/><circle cx="348.6" cy="120.4" r="4.75"/><circle cx="350.1" cy="121.3" r="4.75"/><circle cx="351.5" cy="120.8" r="4.75"/><circle cx="353.0" cy="121.5" r="4.75"/><circle cx="354.5" cy="121.5" r="4.75"/><circle cx="356.0" cy="121.2" r="4.75"/><circle cx="357.5" cy="122.3" r="4.75"/><circle cx="359.0" cy="122.3" r="4.75"/><circle cx="360.5" cy="121.9" r="4.75"/><circle cx="362.0" cy="122.4" r="4.75"/><circle cx="363.4" cy="122.4" r="4.75"/><circle cx="364.9" cy="122.1" r="4.75"/><circle cx="366.4" cy="122.4" r="4.75"/><circle cx="367.9" cy="123.6" r="4.75"/><circle cx="369.4" cy="122.5" r="4.75"/><circle cx="370.9" cy="123.0" r="4.75"/><circle cx="372.4" cy="122.9" r="4.75"/><circle cx="373.9" cy="123.1" r="4.75"/><circle cx="375.4" cy="124.2" r="4.75"/><circle cx="376.9" cy="124.8" r="4.75"/><circle cx="378.3" cy="124.0" r="4.75"/><circle cx="379.8" cy="124.9" r="4.75"/><circle cx="381.3" cy="124.4" r="4.75"/><circle cx="382.8" cy="124.9" r="4.75"/><circle cx="384.3" cy="124.3" r="4.75"/><circle cx="385.8" cy="124.1" r="4.75"/><circle cx="387.3" cy="125.6" r="4.75"/><circle cx="388.8" cy="125.3" r="4.75"/><circle cx="390.3" cy="125.4" r="4.75"/><circle cx="391.8" cy="125.8" r="4.75"/><circle cx="393.3" cy="126.2" r="4.75"/><circle cx="394.8" cy="125.8" r="4.75"/><circle cx="396.2" cy="126.5" r="4.75"/><circle cx="397.7" cy="125.7" r="4.75"/><circle cx="399.2" cy="127.0" r="4.75"/><circle cx="400.7" cy="126.9" r="4.75"/><circle cx="402.2" cy="127.0" r="4.75"/><circle cx="403.7" cy="126.7" r="4.75"/><circle cx="405.2" cy="127.2" r="4.75"/><circle cx="406.7" cy="127.0" r="4.75"/><circle cx="408.2" cy="127.7" r="4.75"/><circle cx="409.7" cy="127.0" r="4.75"/><circle cx="411.2" cy="127.5" r="4.75"/><circle cx="412.7" cy="127.6" r="4.75"/><circle cx="414.1" cy="128.7" r="4.75"/><circle cx="415.6" cy="128.4" r="4.75"/><circle cx="417.1" cy="128.1" r="4.75"/><circle cx="418.6" cy="129.3" r="4.75"/><circle cx="420.1" cy="128.7" r="4.75"/><circle cx="421.6" cy="129.3" r="4.75"/><circle cx="423.1" cy="129.0" r="4.75"/><circle cx="424.6" cy="129.3" r="4.75"/><circle cx="426.1" cy="129.7" r="4.75"/><circle cx="427.6" cy="129.7" r="4.75"/><circle cx="429.0" cy="129.7" r="4.75"/><circle cx="430.5" cy="130.7" r="4.75"/><circle cx="432.0" cy="130.4" r="4.75"/><circle cx="433.5" cy="130.7" r="4.75"/><circle cx="435.0" cy="131.3" r="4.75"/><circle cx="436.5" cy="129.8" r="4.75"/><circle cx="438.0" cy="130.6" r="4.75"/><circle cx="439.5" cy="130.8" r="4.75"/><circle cx="441.0" cy="131.5" r="4.75"/><circle cx="442.4" cy="130.9" r="4.75"/><circle cx="443.9" cy="132.0" r="4.75"/><circle cx="445.4" cy="131.8" r="4.75"/><circle cx="446.9" cy="132.5" r="4.75"/><circle cx="448.4" cy="131.6" r="4.75"/><circle cx="449.9" cy="132.8" r="4.75"/><circle cx="451.4" cy="132.7" r="4.75"/><circle cx="452.9" cy="132.8" r="4.75"/><circle cx="454.3" cy="133.7" r="4.75"/><circle cx="455.8" cy="133.3" r="4.75"/><circle cx="457.3" cy="133.8" r="4.75"/><circle cx="458.8" cy="133.0" r="4.75"/><circle cx="460.3" cy="132.9" r="4.75"/><circle cx="461.8" cy="133.5" r="4.75"/><circle cx="463.3" cy="133.6" r="4.75"/><circle cx="464.8" cy="133.7" r="4.75"/><circle cx="466.3" cy="133.8" r="4.75"/><circle cx="467.7" cy="134.9" r="4.75"/><circle cx="469.2" cy="134.3" r="4.75"/><circle cx="470.7" cy="134.9" r="4.75"/><circle cx="472.2" cy="135.3" r="4.75"/><circle cx="473.7" cy="135.0" r="4.75"/><circle cx="475.2" cy="136.1" r="4.75"/><circle cx="476.7" cy="136.2" r="4.75"/><circle cx="478.2" cy="136.3" r="4.75"/><circle cx="479.7" cy="136.6" r="4.75"/><circle cx="481.1" cy="135.3" r="4.75"/><circle cx="482.6" cy="137.1" r="4.75"/><circle cx="484.1" cy="136.0" r="4.75"/><circle cx="485.6" cy="136.0" r="4.75"/><circle cx="487.1" cy="137.3" r="4.75"/><circle cx="488.6" cy="136.4" r="4.75"/><circle cx="490.1" cy="137.7" r="4.75"/><circle cx="491.6" cy="138.0" r="4.75"/><circle cx="493.1" cy="138.0" r="4.75"/><circle cx="494.6" cy="138.4" r="4.75"/><circle cx="496.0" cy="138.4" r="4.75"/><circle cx="497.5" cy="138.3" r="4.75"/><circle cx="499.0" cy="138.6" r="4.75"/><circle cx="500.5" cy="139.0" r="4.75"/><circle cx="502.0" cy="138.1" r="4.75"/><circle cx="503.5" cy="138.0" r="4.75"/><circle cx="505.0" cy="138.0" r="4.75"/><circle cx="506.5" cy="138.3" r="4.75"/><circle cx="508.0" cy="139.1" r="4.75"/><circle cx="509.5" cy="140.0" r="4.75"/><circle cx="511.0" cy="140.1" r="4.75"/><circle cx="512.4" cy="139.7" r="4.75"/><circle cx="513.9" cy="140.4" r="4.75"/><circle cx="515.4" cy="139.8" r="4.75"/><circle cx="516.9" cy="139.4" r="4.75"/><circle cx="518.4" cy="140.5" r="4.75"/><circle cx="519.9" cy="140.6" r="4.75"/><circle cx="521.4" cy="141.4" r="4.75"/><circle cx="522.9" cy="141.6" r="4.75"/><circle cx="524.4" cy="140.9" r="4.75"/><circle cx="525.9" cy="140.2" r="4.75"/><circle cx="527.4" cy="141.4" r="4.75"/><circle cx="528.9" cy="142.0" r="4.75"/><circle cx="530.3" cy="141.5" r="4.75"/><circle cx="531.0" cy="141.6" r="4.75"/><circle cx="206.1" cy="90.4" r="4.75"/><circle cx="210.7" cy="92.5" r="4.75"/><circle cx="224.3" cy="95.3" r="4.75"/><circle cx="228.1" cy="96.9" r="4.75"/><circle cx="242.2" cy="99.5" r="4.75"/><circle cx="246.2" cy="101.4" r="4.75"/><circle cx="254.1" cy="102.0" r="4.75"/><circle cx="260.5" cy="104.3" r="4.75"/><circle cx="264.2" cy="104.9" r="4.75"/><circle cx="272.7" cy="110.8" r="4.75"/><circle cx="278.2" cy="113.2" r="4.75"/><circle cx="283.5" cy="113.4" r="4.75"/><circle cx="289.4" cy="114.7" r="4.75"/><circle cx="295.7" cy="115.1" r="4.75"/><circle cx="305.7" cy="116.1" r="4.75"/><circle cx="324.5" cy="122.5" r="4.75"/><circle cx="336.0" cy="122.7" r="4.75"/><circle cx="342.3" cy="124.1" r="4.75"/><circle cx="350.7" cy="123.7" r="4.75"/><circle cx="353.2" cy="122.6" r="4.75"/><circle cx="368.7" cy="125.0" r="4.75"/><circle cx="372.5" cy="126.0" r="4.75"/><circle cx="390.6" cy="126.8" r="4.75"/><circle cx="395.8" cy="127.5" r="4.75"/><circle cx="401.0" cy="129.5" r="4.75"/><circle cx="410.9" cy="128.6" r="4.75"/></g>
<g fill="#008000" clip-path="url(#ca)"><circle cx="64.0" cy="43.8" r="4.5"/><circle cx="65.3" cy="49.6" r="4.5"/><circle cx="66.8" cy="54.1" r="4.5"/><circle cx="69.1" cy="59.0" r="4.5"/><circle cx="72.0" cy="63.6" r="4.5"/><circle cx="75.5" cy="67.7" r="4.5"/><circle cx="79.4" cy="71.8" r="4.5"/><circle cx="84.1" cy="74.9" r="4.5"/><circle cx="89.4" cy="77.6" r="4.5"/><circle cx="94.8" cy="80.0" r="4.5"/><circle cx="100.1" cy="82.8" r="4.5"/><circle cx="105.6" cy="85.0" r="4.5"/><circle cx="111.1" cy="87.4" r="4.5"/><circle cx="116.7" cy="89.6" r="4.5"/><circle cx="122.4" cy="91.2" r="4.5"/><circle cx="128.1" cy="93.1" r="4.5"/><circle cx="133.8" cy="94.9" r="4.5"/><circle cx="139.6" cy="96.8" r="4.5"/><circle cx="145.3" cy="98.6" r="4.5"/><circle cx="151.0" cy="100.3" r="4.5"/><circle cx="156.7" cy="102.2" r="4.5"/><circle cx="162.4" cy="104.0" r="4.5"/><circle cx="168.2" cy="105.5" r="4.5"/><circle cx="173.9" cy="107.4" r="4.5"/><circle cx="179.7" cy="109.0" r="4.5"/><circle cx="185.5" cy="110.5" r="4.5"/><circle cx="191.3" cy="112.2" r="4.5"/><circle cx="197.1" cy="113.5" r="4.5"/><circle cx="202.9" cy="115.2" r="4.5"/><circle cx="208.7" cy="116.5" r="4.5"/><circle cx="214.5" cy="118.1" r="4.5"/><circle cx="220.4" cy="119.2" r="4.5"/><circle cx="226.2" cy="120.7" r="4.5"/><circle cx="232.0" cy="122.3" r="4.5"/><circle cx="237.8" cy="123.9" r="4.5"/><circle cx="243.6" cy="125.3" r="4.5"/><circle cx="249.5" cy="126.8" r="4.5"/><circle cx="255.3" cy="127.9" r="4.5"/><circle cx="261.1" cy="129.5" r="4.5"/><circle cx="267.0" cy="130.8" r="4.5"/><circle cx="272.8" cy="131.7" r="4.5"/><circle cx="278.7" cy="133.0" r="4.5"/><circle cx="284.6" cy="134.1" r="4.5"/><circle cx="290.5" cy="135.3" r="4.5"/><circle cx="296.3" cy="137.0" r="4.5"/><circle cx="302.2" cy="138.2" r="4.5"/><circle cx="308.0" cy="139.9" r="4.5"/><circle cx="313.8" cy="141.2" r="4.5"/><circle cx="319.6" cy="142.8" r="4.5"/><circle cx="325.4" cy="144.0" r="4.5"/><circle cx="331.3" cy="145.7" r="4.5"/><circle cx="337.1" cy="147.0" r="4.5"/><circle cx="342.9" cy="148.4" r="4.5"/><circle cx="348.8" cy="149.6" r="4.5"/><circle cx="354.6" cy="151.1" r="4.5"/><circle cx="360.5" cy="152.3" r="4.5"/><circle cx="366.4" cy="153.6" r="4.5"/><circle cx="372.2" cy="154.8" r="4.5"/><circle cx="378.0" cy="156.2" r="4.5"/><circle cx="383.9" cy="157.6" r="4.5"/><circle cx="389.8" cy="158.6" r="4.5"/><circle cx="395.7" cy="159.8" r="4.5"/><circle cx="401.5" cy="160.8" r="4.5"/><circle cx="407.4" cy="162.3" r="4.5"/><circle cx="413.3" cy="163.2" r="4.5"/><circle cx="419.2" cy="164.2" r="4.5"/><circle cx="425.1" cy="165.4" r="4.5"/><circle cx="431.0" cy="166.7" r="4.5"/><circle cx="436.9" cy="167.9" r="4.5"/><circle cx="442.8" cy="168.9" r="4.5"/><circle cx="448.5" cy="170.7" r="4.5"/></g>
<g fill="#ec8a63" clip-path="url(#ca)"><circle cx="69.7" cy="42.3" r="4.5"/><circle cx="70.7" cy="43.5" r="4.5"/><circle cx="71.6" cy="45.2" r="4.5"/><circle cx="72.6" cy="46.5" r="4.5"/><circle cx="73.7" cy="47.1" r="4.5"/><circle cx="74.8" cy="48.4" r="4.5"/><circle cx="76.0" cy="49.8" r="4.5"/><circle cx="77.2" cy="50.4" r="4.5"/><circle cx="78.6" cy="51.3" r="4.5"/><circle cx="80.0" cy="51.6" r="4.5"/><circle cx="81.6" cy="51.9" r="4.5"/><circle cx="83.1" cy="52.8" r="4.5"/><circle cx="84.6" cy="52.7" r="4.5"/><circle cx="86.2" cy="53.4" r="4.5"/><circle cx="87.7" cy="54.3" r="4.5"/><circle cx="89.2" cy="54.3" r="4.5"/><circle cx="90.7" cy="55.3" r="4.5"/><circle cx="92.2" cy="56.1" r="4.5"/><circle cx="93.6" cy="56.3" r="4.5"/><circle cx="95.1" cy="57.4" r="4.5"/><circle cx="96.5" cy="57.8" r="4.5"/><circle cx="97.9" cy="58.7" r="4.5"/><circle cx="99.4" cy="59.0" r="4.5"/><circle cx="100.9" cy="59.4" r="4.5"/><circle cx="102.5" cy="59.7" r="4.5"/><circle cx="104.0" cy="60.0" r="4.5"/><circle cx="105.6" cy="60.2" r="4.5"/><circle cx="107.2" cy="60.5" r="4.5"/><circle cx="108.8" cy="61.2" r="4.5"/><circle cx="110.4" cy="61.4" r="4.5"/><circle cx="111.9" cy="61.7" r="4.5"/><circle cx="113.5" cy="61.8" r="4.5"/><circle cx="115.1" cy="62.5" r="4.5"/><circle cx="116.6" cy="62.8" r="4.5"/><circle cx="118.1" cy="63.1" r="4.5"/><circle cx="119.7" cy="63.7" r="4.5"/><circle cx="121.2" cy="64.0" r="4.5"/><circle cx="122.7" cy="64.4" r="4.5"/><circle cx="124.2" cy="65.1" r="4.5"/><circle cx="125.8" cy="65.7" r="4.5"/><circle cx="127.3" cy="65.9" r="4.5"/><circle cx="128.9" cy="66.2" r="4.5"/><circle cx="130.4" cy="66.7" r="4.5"/><circle cx="132.0" cy="67.2" r="4.5"/><circle cx="133.5" cy="67.8" r="4.5"/><circle cx="135.1" cy="68.3" r="4.5"/><circle cx="136.6" cy="68.6" r="4.5"/><circle cx="138.2" cy="68.5" r="4.5"/><circle cx="139.7" cy="68.9" r="4.5"/><circle cx="141.3" cy="69.2" r="4.5"/><circle cx="142.9" cy="69.9" r="4.5"/><circle cx="144.4" cy="70.1" r="4.5"/><circle cx="146.0" cy="70.0" r="4.5"/><circle cx="147.6" cy="70.1" r="4.5"/><circle cx="149.2" cy="70.4" r="4.5"/><circle cx="150.8" cy="70.5" r="4.5"/><circle cx="152.4" cy="71.0" r="4.5"/><circle cx="153.9" cy="71.0" r="4.5"/><circle cx="155.5" cy="71.6" r="4.5"/><circle cx="157.1" cy="71.8" r="4.5"/><circle cx="158.7" cy="72.0" r="4.5"/><circle cx="160.2" cy="72.2" r="4.5"/><circle cx="161.8" cy="72.9" r="4.5"/><circle cx="163.4" cy="72.8" r="4.5"/><circle cx="165.0" cy="73.0" r="4.5"/><circle cx="166.5" cy="73.5" r="4.5"/><circle cx="168.1" cy="73.6" r="4.5"/><circle cx="169.7" cy="74.2" r="4.5"/><circle cx="171.3" cy="74.3" r="4.5"/><circle cx="172.9" cy="74.3" r="4.5"/><circle cx="174.4" cy="74.8" r="4.5"/><circle cx="176.0" cy="74.8" r="4.5"/><circle cx="177.6" cy="75.3" r="4.5"/><circle cx="179.2" cy="75.8" r="4.5"/><circle cx="180.8" cy="75.6" r="4.5"/><circle cx="182.3" cy="76.1" r="4.5"/><circle cx="183.9" cy="76.3" r="4.5"/><circle cx="185.5" cy="76.8" r="4.5"/><circle cx="187.1" cy="76.7" r="4.5"/><circle cx="188.6" cy="77.2" r="4.5"/><circle cx="190.2" cy="77.4" r="4.5"/><circle cx="191.8" cy="77.7" r="4.5"/><circle cx="193.4" cy="78.0" r="4.5"/><circle cx="195.0" cy="78.4" r="4.5"/><circle cx="196.5" cy="78.5" r="4.5"/><circle cx="198.1" cy="78.8" r="4.5"/><circle cx="199.7" cy="79.1" r="4.5"/><circle cx="201.3" cy="79.1" r="4.5"/><circle cx="202.9" cy="79.3" r="4.5"/><circle cx="204.5" cy="79.3" r="4.5"/><circle cx="206.0" cy="79.6" r="4.5"/><circle cx="207.6" cy="79.7" r="4.5"/><circle cx="209.2" cy="80.4" r="4.5"/><circle cx="210.8" cy="80.2" r="4.5"/><circle cx="212.4" cy="80.4" r="4.5"/><circle cx="214.0" cy="80.9" r="4.5"/><circle cx="215.6" cy="81.0" r="4.5"/><circle cx="217.2" cy="81.0" r="4.5"/><circle cx="218.7" cy="81.6" r="4.5"/><circle cx="220.3" cy="81.4" r="4.5"/><circle cx="221.9" cy="81.9" r="4.5"/><circle cx="223.5" cy="81.8" r="4.5"/><circle cx="225.1" cy="82.1" r="4.5"/><circle cx="226.7" cy="82.7" r="4.5"/><circle cx="228.3" cy="82.8" r="4.5"/><circle cx="229.8" cy="82.7" r="4.5"/><circle cx="231.4" cy="83.4" r="4.5"/><circle cx="233.0" cy="83.3" r="4.5"/><circle cx="234.6" cy="83.6" r="4.5"/><circle cx="236.2" cy="84.1" r="4.5"/><circle cx="237.8" cy="83.9" r="4.5"/><circle cx="239.3" cy="84.2" r="4.5"/><circle cx="240.9" cy="84.8" r="4.5"/><circle cx="242.5" cy="84.9" r="4.5"/><circle cx="244.1" cy="85.1" r="4.5"/><circle cx="245.7" cy="85.1" r="4.5"/><circle cx="247.3" cy="85.5" r="4.5"/><circle cx="248.9" cy="85.4" r="4.5"/><circle cx="250.5" cy="85.6" r="4.5"/><circle cx="252.0" cy="85.6" r="4.5"/><circle cx="253.6" cy="86.0" r="4.5"/><circle cx="255.2" cy="85.9" r="4.5"/><circle cx="256.8" cy="86.5" r="4.5"/><circle cx="258.4" cy="86.6" r="4.5"/><circle cx="260.0" cy="86.9" r="4.5"/><circle cx="261.6" cy="86.5" r="4.5"/><circle cx="263.2" cy="86.8" r="4.5"/><circle cx="264.8" cy="87.0" r="4.5"/><circle cx="266.4" cy="87.5" r="4.5"/><circle cx="268.0" cy="87.3" r="4.5"/><circle cx="269.6" cy="87.5" r="4.5"/><circle cx="271.2" cy="87.6" r="4.5"/><circle cx="272.7" cy="87.9" r="4.5"/><circle cx="274.3" cy="88.0" r="4.5"/><circle cx="275.9" cy="88.1" r="4.5"/><circle cx="277.5" cy="88.2" r="4.5"/><circle cx="279.1" cy="88.1" r="4.5"/><circle cx="280.7" cy="88.2" r="4.5"/><circle cx="282.3" cy="88.5" r="4.5"/><circle cx="283.9" cy="88.6" r="4.5"/><circle cx="285.5" cy="88.9" r="4.5"/><circle cx="287.1" cy="89.1" r="4.5"/><circle cx="288.7" cy="89.3" r="4.5"/><circle cx="290.3" cy="89.5" r="4.5"/><circle cx="291.9" cy="89.6" r="4.5"/><circle cx="293.5" cy="89.7" r="4.5"/><circle cx="295.0" cy="89.8" r="4.5"/><circle cx="296.6" cy="90.2" r="4.5"/><circle cx="298.2" cy="90.5" r="4.5"/><circle cx="299.8" cy="90.5" r="4.5"/><circle cx="301.4" cy="90.7" r="4.5"/><circle cx="303.0" cy="91.0" r="4.5"/><circle cx="304.6" cy="91.5" r="4.5"/><circle cx="306.1" cy="91.6" r="4.5"/><circle cx="307.7" cy="91.4" r="4.5"/><circle cx="309.3" cy="91.8" r="4.5"/><circle cx="310.9" cy="92.0" r="4.5"/><circle cx="312.5" cy="92.4" r="4.5"/><circle cx="314.1" cy="92.3" r="4.5"/><circle cx="315.7" cy="92.8" r="4.5"/><circle cx="317.3" cy="92.8" r="4.5"/><circle cx="318.8" cy="93.2" r="4.5"/><circle cx="320.4" cy="93.5" r="4.5"/><circle cx="322.0" cy="93.4" r="4.5"/><circle cx="323.6" cy="93.8" r="4.5"/><circle cx="325.2" cy="93.8" r="4.5"/><circle cx="326.8" cy="94.1" r="4.5"/><circle cx="328.4" cy="93.9" r="4.5"/><circle cx="330.0" cy="94.0" r="4.5"/><circle cx="331.6" cy="94.5" r="4.5"/><circle cx="333.2" cy="94.9" r="4.5"/><circle cx="334.7" cy="94.8" r="4.5"/><circle cx="336.3" cy="95.2" r="4.5"/><circle cx="337.9" cy="95.1" r="4.5"/><circle cx="339.5" cy="95.3" r="4.5"/><circle cx="341.1" cy="95.4" r="4.5"/><circle cx="342.7" cy="95.7" r="4.5"/><circle cx="344.3" cy="95.7" r="4.5"/><circle cx="345.9" cy="96.2" r="4.5"/><circle cx="347.5" cy="96.2" r="4.5"/><circle cx="349.1" cy="96.2" r="4.5"/><circle cx="350.7" cy="96.6" r="4.5"/><circle cx="352.2" cy="96.5" r="4.5"/><circle cx="353.8" cy="96.8" r="4.5"/><circle cx="355.4" cy="97.2" r="4.5"/><circle cx="357.0" cy="97.0" r="4.5"/><circle cx="358.6" cy="97.6" r="4.5"/><circle cx="360.2" cy="97.2" r="4.5"/><circle cx="361.8" cy="97.7" r="4.5"/><circle cx="363.4" cy="98.0" r="4.5"/><circle cx="365.0" cy="98.3" r="4.5"/><circle cx="366.6" cy="98.1" r="4.5"/><circle cx="368.2" cy="98.2" r="4.5"/><circle cx="369.8" cy="98.5" r="4.5"/><circle cx="371.4" cy="98.8" r="4.5"/><circle cx="372.9" cy="98.7" r="4.5"/><circle cx="374.5" cy="98.8" r="4.5"/><circle cx="376.1" cy="99.1" r="4.5"/><circle cx="377.7" cy="99.4" r="4.5"/><circle cx="379.3" cy="99.3" r="4.5"/><circle cx="380.9" cy="99.6" r="4.5"/><circle cx="382.5" cy="99.5" r="4.5"/><circle cx="384.1" cy="100.0" r="4.5"/><circle cx="385.7" cy="99.9" r="4.5"/><circle cx="387.3" cy="100.3" r="4.5"/><circle cx="388.9" cy="100.1" r="4.5"/><circle cx="390.5" cy="100.6" r="4.5"/><circle cx="392.0" cy="101.0" r="4.5"/><circle cx="393.6" cy="100.8" r="4.5"/><circle cx="395.2" cy="100.9" r="4.5"/><circle cx="396.8" cy="101.2" r="4.5"/><circle cx="398.4" cy="101.2" r="4.5"/><circle cx="400.0" cy="101.7" r="4.5"/><circle cx="401.6" cy="102.1" r="4.5"/><circle cx="403.2" cy="101.7" r="4.5"/><circle cx="404.8" cy="102.3" r="4.5"/><circle cx="406.4" cy="102.4" r="4.5"/><circle cx="407.9" cy="102.4" r="4.5"/><circle cx="409.5" cy="102.7" r="4.5"/><circle cx="411.1" cy="102.7" r="4.5"/><circle cx="412.7" cy="103.1" r="4.5"/><circle cx="414.3" cy="103.3" r="4.5"/><circle cx="415.9" cy="103.7" r="4.5"/><circle cx="417.5" cy="103.5" r="4.5"/><circle cx="419.1" cy="103.5" r="4.5"/><circle cx="420.7" cy="103.6" r="4.5"/><circle cx="422.3" cy="103.8" r="4.5"/><circle cx="423.9" cy="104.4" r="4.5"/><circle cx="425.4" cy="104.5" r="4.5"/><circle cx="427.0" cy="104.2" r="4.5"/><circle cx="428.6" cy="104.6" r="4.5"/><circle cx="430.2" cy="104.8" r="4.5"/><circle cx="431.8" cy="104.9" r="4.5"/><circle cx="433.4" cy="105.4" r="4.5"/><circle cx="435.0" cy="105.2" r="4.5"/><circle cx="436.6" cy="105.4" r="4.5"/><circle cx="438.2" cy="105.9" r="4.5"/><circle cx="439.8" cy="106.1" r="4.5"/><circle cx="441.4" cy="106.0" r="4.5"/><circle cx="443.0" cy="105.8" r="4.5"/><circle cx="444.6" cy="106.4" r="4.5"/><circle cx="446.1" cy="106.6" r="4.5"/><circle cx="447.7" cy="106.4" r="4.5"/><circle cx="449.3" cy="106.9" r="4.5"/><circle cx="450.9" cy="107.1" r="4.5"/><circle cx="452.5" cy="106.9" r="4.5"/><circle cx="65.7" cy="32.5" r="4.5"/><circle cx="100.5" cy="51.4" r="4.5"/><circle cx="136.5" cy="59.6" r="4.5"/><circle cx="171.6" cy="66.0" r="4.5"/><circle cx="206.5" cy="70.8" r="4.5"/><circle cx="241.0" cy="75.1" r="4.5"/><circle cx="275.9" cy="79.3" r="4.5"/><circle cx="310.5" cy="83.0" r="4.5"/><circle cx="345.0" cy="87.0" r="4.5"/><circle cx="379.2" cy="90.7" r="4.5"/><circle cx="412.6" cy="94.2" r="4.5"/><circle cx="446.5" cy="98.5" r="4.5"/></g>

<g fill="#3a7fc1" clip-path="url(#cb)"><circle cx="66.0" cy="283.7" r="4.75"/><circle cx="67.3" cy="285.3" r="4.75"/><circle cx="68.7" cy="286.1" r="4.75"/><circle cx="70.0" cy="286.3" r="4.75"/><circle cx="71.3" cy="287.2" r="4.75"/><circle cx="72.7" cy="288.2" r="4.75"/><circle cx="74.0" cy="288.9" r="4.75"/><circle cx="75.3" cy="290.1" r="4.75"/><circle cx="76.6" cy="290.7" r="4.75"/><circle cx="78.0" cy="292.3" r="4.75"/><circle cx="79.3" cy="292.6" r="4.75"/><circle cx="80.7" cy="293.3" r="4.75"/><circle cx="82.1" cy="293.7" r="4.75"/><circle cx="83.6" cy="294.7" r="4.75"/><circle cx="85.1" cy="295.7" r="4.75"/><circle cx="86.5" cy="296.0" r="4.75"/><circle cx="88.0" cy="296.5" r="4.75"/><circle cx="89.4" cy="297.9" r="4.75"/><circle cx="90.9" cy="297.8" r="4.75"/><circle cx="92.3" cy="299.1" r="4.75"/><circle cx="93.8" cy="299.9" r="4.75"/><circle cx="95.3" cy="300.6" r="4.75"/><circle cx="96.7" cy="300.5" r="4.75"/><circle cx="98.2" cy="301.0" r="4.75"/><circle cx="99.7" cy="301.8" r="4.75"/><circle cx="101.2" cy="302.7" r="4.75"/><circle cx="102.6" cy="303.0" r="4.75"/><circle cx="104.1" cy="303.5" r="4.75"/><circle cx="105.6" cy="304.0" r="4.75"/><circle cx="107.1" cy="305.0" r="4.75"/><circle cx="108.6" cy="305.8" r="4.75"/><circle cx="110.0" cy="306.1" r="4.75"/><circle cx="128.5" cy="311.1" r="4.75"/><circle cx="129.9" cy="311.2" r="4.75"/><circle cx="131.3" cy="311.6" r="4.75"/><circle cx="132.7" cy="313.7" r="4.75"/><circle cx="134.2" cy="314.0" r="4.75"/><circle cx="135.6" cy="314.5" r="4.75"/><circle cx="137.1" cy="315.1" r="4.75"/><circle cx="138.5" cy="314.9" r="4.75"/><circle cx="140.0" cy="315.7" r="4.75"/><circle cx="141.5" cy="317.1" r="4.75"/><circle cx="143.1" cy="317.0" r="4.75"/><circle cx="144.6" cy="318.1" r="4.75"/><circle cx="146.1" cy="318.7" r="4.75"/><circle cx="147.7" cy="318.1" r="4.75"/><circle cx="149.2" cy="319.2" r="4.75"/><circle cx="150.8" cy="319.0" r="4.75"/><circle cx="152.3" cy="319.9" r="4.75"/><circle cx="153.9" cy="319.6" r="4.75"/><circle cx="155.4" cy="320.1" r="4.75"/><circle cx="157.0" cy="320.2" r="4.75"/><circle cx="158.5" cy="321.9" r="4.75"/><circle cx="160.1" cy="321.8" r="4.75"/><circle cx="161.7" cy="320.9" r="4.75"/><circle cx="163.2" cy="321.6" r="4.75"/><circle cx="164.8" cy="322.2" r="4.75"/><circle cx="166.4" cy="322.4" r="4.75"/><circle cx="167.9" cy="322.5" r="4.75"/><circle cx="169.5" cy="323.6" r="4.75"/><circle cx="171.1" cy="323.4" r="4.75"/><circle cx="172.6" cy="324.6" r="4.75"/><circle cx="174.1" cy="323.8" r="4.75"/><circle cx="175.7" cy="325.6" r="4.75"/><circle cx="177.2" cy="324.7" r="4.75"/><circle cx="178.8" cy="326.2" r="4.75"/><circle cx="180.3" cy="326.0" r="4.75"/><circle cx="181.8" cy="327.4" r="4.75"/><circle cx="183.4" cy="328.1" r="4.75"/><circle cx="184.9" cy="327.1" r="4.75"/><circle cx="186.4" cy="328.1" r="4.75"/><circle cx="188.0" cy="329.4" r="4.75"/><circle cx="189.5" cy="328.5" r="4.75"/><circle cx="191.0" cy="329.6" r="4.75"/><circle cx="192.5" cy="330.6" r="4.75"/><circle cx="194.1" cy="331.3" r="4.75"/><circle cx="195.6" cy="331.1" r="4.75"/><circle cx="197.1" cy="332.0" r="4.75"/><circle cx="198.7" cy="332.1" r="4.75"/><circle cx="200.2" cy="331.9" r="4.75"/><circle cx="201.7" cy="332.2" r="4.75"/><circle cx="203.3" cy="334.0" r="4.75"/><circle cx="204.8" cy="334.0" r="4.75"/><circle cx="206.3" cy="334.6" r="4.75"/><circle cx="207.9" cy="334.4" r="4.75"/><circle cx="209.4" cy="335.0" r="4.75"/><circle cx="210.9" cy="335.2" r="4.75"/><circle cx="212.5" cy="335.5" r="4.75"/><circle cx="214.0" cy="336.9" r="4.75"/><circle cx="215.5" cy="336.6" r="4.75"/><circle cx="217.1" cy="337.4" r="4.75"/><circle cx="218.6" cy="337.7" r="4.75"/><circle cx="220.1" cy="339.1" r="4.75"/><circle cx="221.7" cy="339.0" r="4.75"/><circle cx="223.2" cy="339.9" r="4.75"/><circle cx="224.8" cy="340.2" r="4.75"/><circle cx="226.3" cy="340.5" r="4.75"/><circle cx="227.8" cy="340.6" r="4.75"/><circle cx="229.4" cy="341.7" r="4.75"/><circle cx="230.9" cy="341.1" r="4.75"/><circle cx="232.4" cy="341.4" r="4.75"/><circle cx="234.0" cy="342.0" r="4.75"/><circle cx="235.5" cy="343.2" r="4.75"/><circle cx="237.1" cy="342.6" r="4.75"/><circle cx="238.6" cy="343.6" r="4.75"/><circle cx="240.1" cy="343.5" r="4.75"/><circle cx="241.7" cy="343.7" r="4.75"/><circle cx="243.2" cy="345.4" r="4.75"/><circle cx="244.8" cy="345.8" r="4.75"/><circle cx="246.3" cy="345.9" r="4.75"/><circle cx="247.9" cy="346.2" r="4.75"/><circle cx="249.4" cy="346.1" r="4.75"/><circle cx="251.0" cy="346.2" r="4.75"/><circle cx="252.5" cy="347.7" r="4.75"/><circle cx="254.0" cy="348.6" r="4.75"/><circle cx="255.6" cy="347.8" r="4.75"/><circle cx="257.1" cy="348.0" r="4.75"/><circle cx="258.7" cy="349.5" r="4.75"/><circle cx="260.2" cy="349.1" r="4.75"/><circle cx="261.8" cy="350.1" r="4.75"/><circle cx="263.3" cy="351.0" r="4.75"/><circle cx="264.9" cy="351.1" r="4.75"/><circle cx="266.4" cy="351.4" r="4.75"/><circle cx="268.0" cy="350.8" r="4.75"/><circle cx="269.6" cy="351.5" r="4.75"/><circle cx="271.1" cy="352.3" r="4.75"/><circle cx="272.7" cy="353.1" r="4.75"/><circle cx="274.2" cy="352.1" r="4.75"/><circle cx="275.8" cy="353.5" r="4.75"/><circle cx="277.3" cy="354.0" r="4.75"/><circle cx="278.9" cy="354.9" r="4.75"/><circle cx="280.4" cy="354.4" r="4.75"/><circle cx="282.0" cy="354.4" r="4.75"/><circle cx="283.5" cy="354.4" r="4.75"/><circle cx="285.1" cy="354.9" r="4.75"/><circle cx="286.7" cy="356.7" r="4.75"/><circle cx="288.2" cy="355.4" r="4.75"/><circle cx="289.8" cy="356.1" r="4.75"/><circle cx="291.3" cy="356.1" r="4.75"/><circle cx="292.9" cy="358.0" r="4.75"/><circle cx="294.5" cy="357.6" r="4.75"/><circle cx="296.0" cy="358.4" r="4.75"/><circle cx="297.6" cy="358.3" r="4.75"/><circle cx="299.1" cy="358.7" r="4.75"/><circle cx="300.7" cy="359.7" r="4.75"/><circle cx="302.2" cy="358.9" r="4.75"/><circle cx="303.8" cy="359.8" r="4.75"/><circle cx="305.4" cy="360.0" r="4.75"/><circle cx="306.9" cy="359.8" r="4.75"/><circle cx="308.5" cy="360.9" r="4.75"/><circle cx="310.0" cy="362.0" r="4.75"/><circle cx="311.6" cy="362.5" r="4.75"/><circle cx="313.2" cy="362.2" r="4.75"/><circle cx="314.7" cy="361.6" r="4.75"/><circle cx="316.3" cy="362.9" r="4.75"/><circle cx="317.9" cy="363.2" r="4.75"/><circle cx="319.4" cy="363.4" r="4.75"/><circle cx="321.0" cy="363.4" r="4.75"/><circle cx="322.5" cy="364.8" r="4.75"/><circle cx="324.1" cy="363.9" r="4.75"/><circle cx="325.7" cy="364.7" r="4.75"/><circle cx="327.2" cy="365.4" r="4.75"/><circle cx="328.8" cy="365.6" r="4.75"/><circle cx="330.4" cy="365.8" r="4.75"/><circle cx="331.9" cy="365.9" r="4.75"/><circle cx="333.5" cy="365.9" r="4.75"/><circle cx="335.0" cy="366.9" r="4.75"/><circle cx="336.6" cy="367.8" r="4.75"/><circle cx="338.2" cy="366.7" r="4.75"/><circle cx="339.7" cy="367.3" r="4.75"/><circle cx="341.3" cy="368.2" r="4.75"/><circle cx="342.9" cy="368.5" r="4.75"/><circle cx="344.5" cy="368.7" r="4.75"/><circle cx="346.0" cy="368.3" r="4.75"/><circle cx="347.6" cy="368.6" r="4.75"/><circle cx="349.2" cy="370.3" r="4.75"/><circle cx="350.7" cy="370.3" r="4.75"/><circle cx="352.3" cy="369.5" r="4.75"/><circle cx="353.9" cy="370.9" r="4.75"/><circle cx="355.4" cy="371.4" r="4.75"/><circle cx="357.0" cy="370.5" r="4.75"/><circle cx="358.6" cy="371.5" r="4.75"/><circle cx="360.2" cy="371.0" r="4.75"/><circle cx="361.7" cy="371.2" r="4.75"/><circle cx="363.3" cy="372.0" r="4.75"/><circle cx="364.9" cy="372.7" r="4.75"/><circle cx="366.5" cy="372.4" r="4.75"/><circle cx="368.0" cy="372.9" r="4.75"/><circle cx="369.6" cy="373.6" r="4.75"/><circle cx="371.2" cy="373.7" r="4.75"/><circle cx="372.8" cy="374.6" r="4.75"/><circle cx="374.4" cy="374.6" r="4.75"/><circle cx="375.9" cy="374.9" r="4.75"/><circle cx="377.5" cy="375.3" r="4.75"/><circle cx="379.1" cy="374.7" r="4.75"/><circle cx="380.7" cy="376.0" r="4.75"/><circle cx="382.2" cy="374.7" r="4.75"/><circle cx="383.8" cy="375.0" r="4.75"/><circle cx="385.4" cy="376.6" r="4.75"/><circle cx="387.0" cy="377.0" r="4.75"/><circle cx="388.6" cy="376.1" r="4.75"/><circle cx="390.1" cy="376.7" r="4.75"/><circle cx="391.7" cy="377.2" r="4.75"/><circle cx="393.3" cy="376.5" r="4.75"/><circle cx="394.9" cy="378.2" r="4.75"/><circle cx="396.4" cy="378.0" r="4.75"/><circle cx="398.0" cy="378.5" r="4.75"/><circle cx="399.6" cy="377.8" r="4.75"/><circle cx="401.2" cy="378.8" r="4.75"/><circle cx="402.7" cy="379.5" r="4.75"/><circle cx="404.3" cy="378.4" r="4.75"/><circle cx="405.9" cy="378.9" r="4.75"/><circle cx="407.5" cy="380.5" r="4.75"/><circle cx="409.1" cy="379.3" r="4.75"/><circle cx="410.6" cy="380.9" r="4.75"/><circle cx="412.2" cy="380.5" r="4.75"/><circle cx="413.8" cy="380.3" r="4.75"/><circle cx="415.4" cy="381.0" r="4.75"/><circle cx="416.9" cy="381.7" r="4.75"/><circle cx="418.5" cy="381.5" r="4.75"/><circle cx="420.1" cy="382.8" r="4.75"/><circle cx="421.7" cy="381.5" r="4.75"/><circle cx="423.2" cy="382.3" r="4.75"/><circle cx="424.8" cy="383.0" r="4.75"/><circle cx="426.4" cy="382.9" r="4.75"/><circle cx="428.0" cy="383.6" r="4.75"/><circle cx="429.5" cy="382.8" r="4.75"/><circle cx="431.1" cy="384.9" r="4.75"/><circle cx="432.7" cy="383.6" r="4.75"/><circle cx="434.3" cy="384.1" r="4.75"/><circle cx="435.8" cy="384.8" r="4.75"/><circle cx="437.4" cy="385.2" r="4.75"/><circle cx="439.0" cy="386.2" r="4.75"/><circle cx="440.6" cy="384.8" r="4.75"/><circle cx="442.2" cy="386.3" r="4.75"/><circle cx="443.7" cy="386.6" r="4.75"/><circle cx="445.3" cy="386.6" r="4.75"/><circle cx="446.9" cy="386.2" r="4.75"/><circle cx="448.5" cy="387.6" r="4.75"/><circle cx="450.0" cy="387.5" r="4.75"/><circle cx="451.6" cy="387.9" r="4.75"/><circle cx="453.2" cy="387.7" r="4.75"/><circle cx="454.8" cy="387.6" r="4.75"/><circle cx="456.4" cy="388.0" r="4.75"/><circle cx="457.9" cy="388.1" r="4.75"/><circle cx="459.5" cy="389.6" r="4.75"/><circle cx="461.1" cy="388.7" r="4.75"/><circle cx="462.7" cy="388.7" r="4.75"/><circle cx="464.3" cy="388.8" r="4.75"/><circle cx="465.8" cy="390.4" r="4.75"/><circle cx="467.4" cy="389.9" r="4.75"/><circle cx="469.0" cy="389.9" r="4.75"/><circle cx="470.6" cy="389.7" r="4.75"/><circle cx="472.2" cy="390.4" r="4.75"/><circle cx="473.7" cy="391.1" r="4.75"/><circle cx="475.3" cy="391.0" r="4.75"/><circle cx="476.9" cy="391.7" r="4.75"/><circle cx="478.5" cy="391.2" r="4.75"/><circle cx="480.0" cy="393.0" r="4.75"/><circle cx="481.6" cy="392.9" r="4.75"/><circle cx="483.2" cy="393.3" r="4.75"/><circle cx="484.8" cy="392.9" r="4.75"/><circle cx="486.4" cy="392.8" r="4.75"/><circle cx="487.9" cy="392.6" r="4.75"/><circle cx="489.5" cy="393.3" r="4.75"/><circle cx="491.1" cy="393.5" r="4.75"/><circle cx="492.7" cy="393.7" r="4.75"/><circle cx="494.2" cy="395.2" r="4.75"/><circle cx="495.8" cy="394.2" r="4.75"/><circle cx="497.4" cy="395.9" r="4.75"/><circle cx="499.0" cy="394.6" r="4.75"/><circle cx="500.5" cy="396.3" r="4.75"/><circle cx="502.1" cy="395.2" r="4.75"/><circle cx="503.7" cy="396.2" r="4.75"/><circle cx="505.3" cy="396.7" r="4.75"/><circle cx="506.8" cy="396.2" r="4.75"/><circle cx="508.4" cy="397.4" r="4.75"/><circle cx="510.0" cy="397.1" r="4.75"/><circle cx="511.6" cy="397.2" r="4.75"/><circle cx="513.2" cy="397.7" r="4.75"/><circle cx="514.7" cy="398.3" r="4.75"/><circle cx="516.3" cy="398.4" r="4.75"/><circle cx="517.9" cy="398.2" r="4.75"/><circle cx="519.5" cy="398.1" r="4.75"/><circle cx="521.0" cy="399.3" r="4.75"/><circle cx="522.6" cy="398.7" r="4.75"/><circle cx="524.2" cy="400.2" r="4.75"/><circle cx="525.8" cy="399.3" r="4.75"/><circle cx="527.3" cy="399.7" r="4.75"/><circle cx="528.9" cy="399.9" r="4.75"/><circle cx="530.5" cy="400.8" r="4.75"/><circle cx="531.0" cy="401.0" r="4.75"/><circle cx="205.4" cy="308.8" r="4.75"/><circle cx="334.0" cy="341.0" r="4.75"/><circle cx="456.4" cy="362.5" r="4.75"/></g>
<g fill="#242424" clip-path="url(#cb)"><circle cx="66.7" cy="266.8" r="4.75"/><circle cx="66.0" cy="285.2" r="4.75"/><circle cx="67.5" cy="287.9" r="4.75"/><circle cx="69.1" cy="289.8" r="4.75"/><circle cx="70.6" cy="292.1" r="4.75"/><circle cx="72.3" cy="295.5" r="4.75"/><circle cx="74.0" cy="297.1" r="4.75"/><circle cx="75.8" cy="300.6" r="4.75"/><circle cx="77.7" cy="301.6" r="4.75"/><circle cx="79.6" cy="304.9" r="4.75"/><circle cx="81.7" cy="305.4" r="4.75"/><circle cx="83.8" cy="308.6" r="4.75"/><circle cx="86.0" cy="310.2" r="4.75"/><circle cx="88.1" cy="312.1" r="4.75"/><circle cx="90.2" cy="313.9" r="4.75"/><circle cx="92.4" cy="316.0" r="4.75"/><circle cx="94.6" cy="318.6" r="4.75"/><circle cx="97.0" cy="319.7" r="4.75"/><circle cx="99.5" cy="321.5" r="4.75"/><circle cx="102.1" cy="322.6" r="4.75"/><circle cx="104.8" cy="325.3" r="4.75"/><circle cx="107.4" cy="325.0" r="4.75"/><circle cx="110.1" cy="326.7" r="4.75"/><circle cx="112.8" cy="328.5" r="4.75"/><circle cx="115.6" cy="329.5" r="4.75"/><circle cx="118.3" cy="331.0" r="4.75"/><circle cx="120.9" cy="333.3" r="4.75"/><circle cx="123.5" cy="334.6" r="4.75"/><circle cx="126.0" cy="336.2" r="4.75"/><circle cx="128.4" cy="338.2" r="4.75"/><circle cx="131.0" cy="339.1" r="4.75"/><circle cx="133.7" cy="340.9" r="4.75"/><circle cx="136.5" cy="341.5" r="4.75"/><circle cx="139.2" cy="341.9" r="4.75"/><circle cx="142.1" cy="343.3" r="4.75"/><circle cx="144.9" cy="343.9" r="4.75"/><circle cx="147.7" cy="345.7" r="4.75"/><circle cx="150.5" cy="347.3" r="4.75"/><circle cx="153.3" cy="347.6" r="4.75"/><circle cx="156.2" cy="349.2" r="4.75"/><circle cx="159.0" cy="349.2" r="4.75"/><circle cx="161.8" cy="351.3" r="4.75"/><circle cx="164.5" cy="351.6" r="4.75"/><circle cx="167.3" cy="353.8" r="4.75"/><circle cx="170.1" cy="354.6" r="4.75"/><circle cx="172.8" cy="355.4" r="4.75"/><circle cx="175.5" cy="357.4" r="4.75"/><circle cx="178.2" cy="358.7" r="4.75"/><circle cx="180.9" cy="359.9" r="4.75"/><circle cx="183.6" cy="360.2" r="4.75"/><circle cx="186.3" cy="363.0" r="4.75"/><circle cx="189.0" cy="362.6" r="4.75"/><circle cx="191.6" cy="365.7" r="4.75"/><circle cx="194.3" cy="367.1" r="4.75"/><circle cx="196.9" cy="368.3" r="4.75"/><circle cx="199.5" cy="368.8" r="4.75"/><circle cx="202.1" cy="370.1" r="4.75"/><circle cx="204.7" cy="372.8" r="4.75"/><circle cx="207.5" cy="373.9" r="4.75"/><circle cx="210.3" cy="373.2" r="4.75"/><circle cx="213.2" cy="375.3" r="4.75"/><circle cx="216.1" cy="374.8" r="4.75"/><circle cx="218.9" cy="376.3" r="4.75"/><circle cx="221.7" cy="377.3" r="4.75"/><circle cx="224.4" cy="380.1" r="4.75"/><circle cx="227.2" cy="381.0" r="4.75"/><circle cx="230.0" cy="381.4" r="4.75"/><circle cx="232.8" cy="382.4" r="4.75"/><circle cx="235.6" cy="383.8" r="4.75"/><circle cx="238.4" cy="384.9" r="4.75"/><circle cx="241.3" cy="384.7" r="4.75"/><circle cx="244.1" cy="386.4" r="4.75"/><circle cx="246.9" cy="387.4" r="4.75"/><circle cx="249.6" cy="389.9" r="4.75"/><circle cx="252.2" cy="391.0" r="4.75"/><circle cx="254.8" cy="391.3" r="4.75"/><circle cx="257.5" cy="392.5" r="4.75"/><circle cx="260.2" cy="394.5" r="4.75"/><circle cx="262.9" cy="395.9" r="4.75"/><circle cx="265.7" cy="396.2" r="4.75"/><circle cx="268.4" cy="398.6" r="4.75"/><circle cx="271.1" cy="399.6" r="4.75"/><circle cx="273.9" cy="401.6" r="4.75"/><circle cx="276.6" cy="402.4" r="4.75"/><circle cx="279.3" cy="402.9" r="4.75"/><circle cx="282.1" cy="405.3" r="4.75"/><circle cx="284.8" cy="405.4" r="4.75"/><circle cx="287.6" cy="406.2" r="4.75"/><circle cx="290.3" cy="407.1" r="4.75"/><circle cx="293.1" cy="409.9" r="4.75"/><circle cx="295.9" cy="410.4" r="4.75"/><circle cx="298.7" cy="410.8" r="4.75"/><circle cx="301.5" cy="411.5" r="4.75"/><circle cx="304.3" cy="413.7" r="4.75"/><circle cx="307.2" cy="413.3" r="4.75"/><circle cx="310.1" cy="414.7" r="4.75"/><circle cx="312.9" cy="416.0" r="4.75"/><circle cx="315.8" cy="417.6" r="4.75"/><circle cx="318.7" cy="418.0" r="4.75"/><circle cx="321.6" cy="418.4" r="4.75"/><circle cx="324.4" cy="420.1" r="4.75"/><circle cx="327.3" cy="420.3" r="4.75"/><circle cx="330.2" cy="420.6" r="4.75"/><circle cx="333.1" cy="421.4" r="4.75"/><circle cx="336.0" cy="422.6" r="4.75"/><circle cx="338.9" cy="422.9" r="4.75"/><circle cx="341.8" cy="424.2" r="4.75"/><circle cx="344.6" cy="425.2" r="4.75"/><circle cx="347.5" cy="426.8" r="4.75"/><circle cx="350.3" cy="427.5" r="4.75"/><circle cx="353.1" cy="428.2" r="4.75"/><circle cx="355.9" cy="428.7" r="4.75"/><circle cx="358.6" cy="430.6" r="4.75"/><circle cx="361.4" cy="431.7" r="4.75"/><circle cx="364.2" cy="432.3" r="4.75"/><circle cx="367.0" cy="434.4" r="4.75"/><circle cx="369.8" cy="435.2" r="4.75"/><circle cx="372.6" cy="436.7" r="4.75"/><circle cx="375.4" cy="436.3" r="4.75"/><circle cx="378.2" cy="438.8" r="4.75"/><circle cx="381.0" cy="438.6" r="4.75"/><circle cx="383.7" cy="440.0" r="4.75"/><circle cx="386.5" cy="441.2" r="4.75"/><circle cx="389.3" cy="442.7" r="4.75"/><circle cx="392.1" cy="443.0" r="4.75"/><circle cx="394.9" cy="445.7" r="4.75"/><circle cx="397.7" cy="445.9" r="4.75"/><circle cx="400.5" cy="447.6" r="4.75"/><circle cx="401.3" cy="447.4" r="4.75"/><circle cx="108.1" cy="319.5" r="4.75"/><circle cx="185.4" cy="350.2" r="4.75"/><circle cx="346.0" cy="416.1" r="4.75"/><circle cx="358.0" cy="438.0" r="4.75"/><circle cx="296.7" cy="397.5" r="4.75"/></g>
<g fill="#ff0000" clip-path="url(#cb)"><circle cx="65.0" cy="282.4" r="4.75"/><circle cx="65.7" cy="284.1" r="4.75"/><circle cx="66.3" cy="285.3" r="4.75"/><circle cx="67.0" cy="286.8" r="4.75"/><circle cx="67.7" cy="287.6" r="4.75"/><circle cx="68.3" cy="289.9" r="4.75"/><circle cx="69.0" cy="290.6" r="4.75"/><circle cx="69.7" cy="292.0" r="4.75"/><circle cx="70.4" cy="293.2" r="4.75"/><circle cx="71.1" cy="294.3" r="4.75"/><circle cx="71.8" cy="296.8" r="4.75"/><circle cx="72.6" cy="297.4" r="4.75"/><circle cx="73.4" cy="299.0" r="4.75"/><circle cx="74.2" cy="299.3" r="4.75"/><circle cx="75.0" cy="301.0" r="4.75"/><circle cx="75.9" cy="302.0" r="4.75"/><circle cx="76.8" cy="303.7" r="4.75"/><circle cx="77.8" cy="304.3" r="4.75"/><circle cx="78.9" cy="305.7" r="4.75"/><circle cx="79.9" cy="306.1" r="4.75"/><circle cx="81.0" cy="308.0" r="4.75"/><circle cx="82.1" cy="308.9" r="4.75"/><circle cx="83.3" cy="308.9" r="4.75"/><circle cx="84.4" cy="310.4" r="4.75"/><circle cx="85.5" cy="311.6" r="4.75"/><circle cx="86.7" cy="313.0" r="4.75"/><circle cx="87.8" cy="313.8" r="4.75"/><circle cx="88.8" cy="314.6" r="4.75"/><circle cx="89.9" cy="315.6" r="4.75"/><circle cx="91.0" cy="317.4" r="4.75"/><circle cx="92.1" cy="317.8" r="4.75"/><circle cx="93.2" cy="319.3" r="4.75"/><circle cx="94.3" cy="320.2" r="4.75"/><circle cx="95.4" cy="320.1" r="4.75"/><circle cx="96.5" cy="321.9" r="4.75"/><circle cx="97.7" cy="323.2" r="4.75"/><circle cx="98.8" cy="323.2" r="4.75"/><circle cx="100.0" cy="325.0" r="4.75"/><circle cx="101.3" cy="324.7" r="4.75"/><circle cx="102.5" cy="326.3" r="4.75"/><circle cx="103.7" cy="327.3" r="4.75"/><circle cx="105.0" cy="327.8" r="4.75"/><circle cx="106.3" cy="328.9" r="4.75"/><circle cx="107.6" cy="329.5" r="4.75"/><circle cx="108.8" cy="330.6" r="4.75"/><circle cx="110.1" cy="330.3" r="4.75"/><circle cx="111.4" cy="331.6" r="4.75"/><circle cx="112.8" cy="333.1" r="4.75"/><circle cx="114.1" cy="332.6" r="4.75"/><circle cx="115.4" cy="333.3" r="4.75"/><circle cx="116.7" cy="334.5" r="4.75"/><circle cx="118.1" cy="335.0" r="4.75"/><circle cx="119.4" cy="335.4" r="4.75"/><circle cx="120.8" cy="336.9" r="4.75"/><circle cx="122.1" cy="336.7" r="4.75"/><circle cx="123.4" cy="337.0" r="4.75"/><circle cx="124.8" cy="338.2" r="4.75"/><circle cx="126.1" cy="339.0" r="4.75"/><circle cx="127.5" cy="339.5" r="4.75"/><circle cx="128.9" cy="339.8" r="4.75"/><circle cx="130.2" cy="341.1" r="4.75"/><circle cx="131.6" cy="341.3" r="4.75"/><circle cx="132.9" cy="342.0" r="4.75"/><circle cx="134.3" cy="342.5" r="4.75"/><circle cx="135.7" cy="343.8" r="4.75"/><circle cx="137.1" cy="344.3" r="4.75"/><circle cx="138.5" cy="344.7" r="4.75"/><circle cx="139.8" cy="345.8" r="4.75"/><circle cx="141.2" cy="346.3" r="4.75"/><circle cx="142.6" cy="346.2" r="4.75"/><circle cx="144.0" cy="346.2" r="4.75"/><circle cx="145.3" cy="346.9" r="4.75"/><circle cx="146.7" cy="347.6" r="4.75"/><circle cx="148.1" cy="348.9" r="4.75"/><circle cx="149.4" cy="349.4" r="4.75"/><circle cx="150.8" cy="350.3" r="4.75"/><circle cx="152.2" cy="350.1" r="4.75"/><circle cx="153.6" cy="350.6" r="4.75"/><circle cx="154.9" cy="351.4" r="4.75"/><circle cx="156.3" cy="351.8" r="4.75"/><circle cx="157.7" cy="353.8" r="4.75"/><circle cx="159.0" cy="353.9" r="4.75"/><circle cx="160.4" cy="354.9" r="4.75"/><circle cx="161.8" cy="354.3" r="4.75"/><circle cx="163.2" cy="355.7" r="4.75"/><circle cx="164.6" cy="356.5" r="4.75"/><circle cx="165.9" cy="356.1" r="4.75"/><circle cx="167.3" cy="356.8" r="4.75"/><circle cx="168.7" cy="357.1" r="4.75"/><circle cx="170.1" cy="358.0" r="4.75"/><circle cx="171.5" cy="358.2" r="4.75"/><circle cx="172.9" cy="360.1" r="4.75"/><circle cx="174.3" cy="359.1" r="4.75"/><circle cx="175.7" cy="360.6" r="4.75"/><circle cx="177.1" cy="361.0" r="4.75"/><circle cx="178.5" cy="361.4" r="4.75"/><circle cx="179.9" cy="361.9" r="4.75"/><circle cx="181.3" cy="361.9" r="4.75"/><circle cx="182.7" cy="362.4" r="4.75"/><circle cx="184.1" cy="364.4" r="4.75"/><circle cx="185.5" cy="364.1" r="4.75"/><circle cx="186.9" cy="364.3" r="4.75"/><circle cx="188.4" cy="365.1" r="4.75"/><circle cx="189.8" cy="364.9" r="4.75"/><circle cx="191.2" cy="366.7" r="4.75"/><circle cx="192.6" cy="366.6" r="4.75"/><circle cx="194.0" cy="366.5" r="4.75"/><circle cx="195.4" cy="368.1" r="4.75"/><circle cx="196.9" cy="367.6" r="4.75"/><circle cx="198.3" cy="367.7" r="4.75"/><circle cx="199.7" cy="369.7" r="4.75"/><circle cx="201.1" cy="370.1" r="4.75"/><circle cx="202.6" cy="369.1" r="4.75"/><circle cx="204.0" cy="370.2" r="4.75"/><circle cx="205.4" cy="371.1" r="4.75"/><circle cx="206.9" cy="371.6" r="4.75"/><circle cx="208.3" cy="370.9" r="4.75"/><circle cx="209.7" cy="371.4" r="4.75"/><circle cx="211.2" cy="372.9" r="4.75"/><circle cx="212.6" cy="372.8" r="4.75"/><circle cx="214.1" cy="373.3" r="4.75"/><circle cx="215.5" cy="373.9" r="4.75"/><circle cx="216.9" cy="374.2" r="4.75"/><circle cx="218.4" cy="374.3" r="4.75"/><circle cx="219.8" cy="374.4" r="4.75"/><circle cx="221.3" cy="376.0" r="4.75"/><circle cx="222.7" cy="376.3" r="4.75"/><circle cx="224.2" cy="376.1" r="4.75"/><circle cx="225.6" cy="375.9" r="4.75"/><circle cx="227.1" cy="376.3" r="4.75"/><circle cx="228.5" cy="377.4" r="4.75"/><circle cx="229.9" cy="377.7" r="4.75"/><circle cx="231.4" cy="378.2" r="4.75"/><circle cx="232.8" cy="378.3" r="4.75"/><circle cx="234.3" cy="378.7" r="4.75"/><circle cx="235.7" cy="378.7" r="4.75"/><circle cx="237.2" cy="380.3" r="4.75"/><circle cx="238.6" cy="380.7" r="4.75"/><circle cx="240.1" cy="381.1" r="4.75"/><circle cx="241.5" cy="381.3" r="4.75"/><circle cx="243.0" cy="381.5" r="4.75"/><circle cx="244.4" cy="382.0" r="4.75"/><circle cx="245.9" cy="381.6" r="4.75"/><circle cx="247.4" cy="382.1" r="4.75"/><circle cx="248.8" cy="382.4" r="4.75"/><circle cx="250.3" cy="382.4" r="4.75"/><circle cx="251.7" cy="383.0" r="4.75"/><circle cx="253.2" cy="384.3" r="4.75"/><circle cx="254.6" cy="383.5" r="4.75"/><circle cx="256.1" cy="384.7" r="4.75"/><circle cx="257.5" cy="384.2" r="4.75"/><circle cx="259.0" cy="385.6" r="4.75"/><circle cx="260.4" cy="385.4" r="4.75"/><circle cx="261.9" cy="385.9" r="4.75"/><circle cx="263.3" cy="385.6" r="4.75"/><circle cx="264.8" cy="386.6" r="4.75"/><circle cx="266.3" cy="386.4" r="4.75"/><circle cx="267.7" cy="387.8" r="4.75"/><circle cx="269.2" cy="387.2" r="4.75"/><circle cx="270.6" cy="387.5" r="4.75"/><circle cx="272.1" cy="388.0" r="4.75"/><circle cx="273.6" cy="389.6" r="4.75"/><circle cx="275.0" cy="389.6" r="4.75"/><circle cx="276.5" cy="389.5" r="4.75"/><circle cx="277.9" cy="390.5" r="4.75"/><circle cx="279.4" cy="390.4" r="4.75"/><circle cx="280.9" cy="390.7" r="4.75"/><circle cx="282.3" cy="391.3" r="4.75"/><circle cx="283.8" cy="391.6" r="4.75"/><circle cx="285.2" cy="391.0" r="4.75"/><circle cx="286.7" cy="392.2" r="4.75"/><circle cx="288.2" cy="391.6" r="4.75"/><circle cx="289.6" cy="393.3" r="4.75"/><circle cx="291.1" cy="393.3" r="4.75"/><circle cx="292.5" cy="393.7" r="4.75"/><circle cx="294.0" cy="393.5" r="4.75"/><circle cx="295.5" cy="394.4" r="4.75"/><circle cx="296.9" cy="394.0" r="4.75"/><circle cx="298.4" cy="394.7" r="4.75"/><circle cx="299.8" cy="394.3" r="4.75"/><circle cx="301.3" cy="395.8" r="4.75"/><circle cx="302.8" cy="396.2" r="4.75"/><circle cx="304.2" cy="395.5" r="4.75"/><circle cx="305.7" cy="395.9" r="4.75"/><circle cx="307.1" cy="397.3" r="4.75"/><circle cx="308.6" cy="397.4" r="4.75"/><circle cx="310.1" cy="397.8" r="4.75"/><circle cx="311.5" cy="398.0" r="4.75"/><circle cx="313.0" cy="398.6" r="4.75"/><circle cx="314.4" cy="397.7" r="4.75"/><circle cx="315.9" cy="399.3" r="4.75"/><circle cx="317.4" cy="399.2" r="4.75"/><circle cx="318.8" cy="399.9" r="4.75"/><circle cx="320.3" cy="399.7" r="4.75"/><circle cx="321.8" cy="399.5" r="4.75"/><circle cx="323.2" cy="400.3" r="4.75"/><circle cx="324.7" cy="400.7" r="4.75"/><circle cx="326.1" cy="400.6" r="4.75"/><circle cx="327.6" cy="402.0" r="4.75"/><circle cx="329.1" cy="401.4" r="4.75"/><circle cx="330.5" cy="401.7" r="4.75"/><circle cx="332.0" cy="402.4" r="4.75"/><circle cx="333.4" cy="403.3" r="4.75"/><circle cx="334.9" cy="403.4" r="4.75"/><circle cx="336.4" cy="404.0" r="4.75"/><circle cx="337.8" cy="403.4" r="4.75"/><circle cx="339.3" cy="403.9" r="4.75"/><circle cx="340.8" cy="405.1" r="4.75"/><circle cx="342.2" cy="405.4" r="4.75"/><circle cx="343.7" cy="405.1" r="4.75"/><circle cx="345.1" cy="405.5" r="4.75"/><circle cx="346.6" cy="405.3" r="4.75"/><circle cx="348.1" cy="405.6" r="4.75"/><circle cx="349.5" cy="405.7" r="4.75"/><circle cx="351.0" cy="407.5" r="4.75"/><circle cx="352.4" cy="407.7" r="4.75"/><circle cx="353.9" cy="407.3" r="4.75"/><circle cx="355.4" cy="407.9" r="4.75"/><circle cx="356.8" cy="408.2" r="4.75"/><circle cx="358.3" cy="409.2" r="4.75"/><circle cx="359.8" cy="409.1" r="4.75"/><circle cx="361.2" cy="409.4" r="4.75"/><circle cx="362.7" cy="410.2" r="4.75"/><circle cx="364.1" cy="410.1" r="4.75"/><circle cx="365.6" cy="410.0" r="4.75"/><circle cx="367.1" cy="410.8" r="4.75"/><circle cx="368.5" cy="410.8" r="4.75"/><circle cx="370.0" cy="411.9" r="4.75"/><circle cx="371.5" cy="412.0" r="4.75"/><circle cx="372.9" cy="411.9" r="4.75"/><circle cx="374.4" cy="412.6" r="4.75"/><circle cx="375.8" cy="412.9" r="4.75"/><circle cx="377.3" cy="412.1" r="4.75"/><circle cx="378.8" cy="412.6" r="4.75"/><circle cx="380.2" cy="414.1" r="4.75"/><circle cx="381.7" cy="414.0" r="4.75"/><circle cx="383.2" cy="413.5" r="4.75"/><circle cx="384.6" cy="414.9" r="4.75"/><circle cx="386.1" cy="414.5" r="4.75"/><circle cx="387.5" cy="414.8" r="4.75"/><circle cx="389.0" cy="415.4" r="4.75"/><circle cx="390.5" cy="416.1" r="4.75"/><circle cx="391.9" cy="416.5" r="4.75"/><circle cx="393.4" cy="417.2" r="4.75"/><circle cx="394.9" cy="417.1" r="4.75"/><circle cx="396.3" cy="416.6" r="4.75"/><circle cx="397.8" cy="418.0" r="4.75"/><circle cx="399.2" cy="417.6" r="4.75"/><circle cx="400.7" cy="418.2" r="4.75"/><circle cx="402.2" cy="418.0" r="4.75"/><circle cx="403.6" cy="418.3" r="4.75"/><circle cx="405.1" cy="418.5" r="4.75"/><circle cx="406.6" cy="419.3" r="4.75"/><circle cx="408.0" cy="420.6" r="4.75"/><circle cx="409.5" cy="419.9" r="4.75"/><circle cx="410.9" cy="420.1" r="4.75"/><circle cx="412.4" cy="420.8" r="4.75"/><circle cx="413.9" cy="420.8" r="4.75"/><circle cx="415.3" cy="421.4" r="4.75"/><circle cx="416.8" cy="421.5" r="4.75"/><circle cx="418.2" cy="422.9" r="4.75"/><circle cx="419.7" cy="423.1" r="4.75"/><circle cx="421.2" cy="423.4" r="4.75"/><circle cx="422.6" cy="422.7" r="4.75"/><circle cx="424.1" cy="423.6" r="4.75"/><circle cx="425.5" cy="424.2" r="4.75"/><circle cx="427.0" cy="423.9" r="4.75"/><circle cx="428.5" cy="425.3" r="4.75"/><circle cx="429.9" cy="424.6" r="4.75"/><circle cx="431.4" cy="424.8" r="4.75"/><circle cx="432.9" cy="424.8" r="4.75"/><circle cx="434.3" cy="426.0" r="4.75"/><circle cx="435.8" cy="426.9" r="4.75"/><circle cx="437.3" cy="426.0" r="4.75"/><circle cx="438.7" cy="426.8" r="4.75"/><circle cx="440.2" cy="427.3" r="4.75"/><circle cx="441.7" cy="427.8" r="4.75"/><circle cx="443.2" cy="427.3" r="4.75"/><circle cx="444.6" cy="428.6" r="4.75"/><circle cx="446.1" cy="428.4" r="4.75"/><circle cx="447.6" cy="428.2" r="4.75"/><circle cx="449.1" cy="429.0" r="4.75"/><circle cx="450.5" cy="428.7" r="4.75"/><circle cx="452.0" cy="428.9" r="4.75"/><circle cx="453.5" cy="430.0" r="4.75"/><circle cx="455.0" cy="429.7" r="4.75"/><circle cx="456.5" cy="430.6" r="4.75"/><circle cx="457.9" cy="429.9" r="4.75"/><circle cx="459.4" cy="430.3" r="4.75"/><circle cx="460.9" cy="431.2" r="4.75"/><circle cx="462.4" cy="431.0" r="4.75"/><circle cx="463.9" cy="431.3" r="4.75"/><circle cx="465.3" cy="431.9" r="4.75"/><circle cx="466.8" cy="432.2" r="4.75"/><circle cx="468.3" cy="432.2" r="4.75"/><circle cx="469.8" cy="432.2" r="4.75"/><circle cx="471.2" cy="433.1" r="4.75"/><circle cx="472.7" cy="433.2" r="4.75"/><circle cx="474.2" cy="433.5" r="4.75"/><circle cx="475.7" cy="433.5" r="4.75"/><circle cx="477.2" cy="433.6" r="4.75"/><circle cx="478.6" cy="433.0" r="4.75"/><circle cx="480.1" cy="434.5" r="4.75"/><circle cx="481.6" cy="433.8" r="4.75"/><circle cx="483.1" cy="433.9" r="4.75"/><circle cx="484.5" cy="435.5" r="4.75"/><circle cx="486.0" cy="434.8" r="4.75"/><circle cx="487.5" cy="434.6" r="4.75"/><circle cx="489.0" cy="435.3" r="4.75"/><circle cx="490.4" cy="436.0" r="4.75"/><circle cx="491.9" cy="435.7" r="4.75"/><circle cx="493.4" cy="436.3" r="4.75"/><circle cx="494.9" cy="437.1" r="4.75"/><circle cx="496.4" cy="437.4" r="4.75"/><circle cx="497.8" cy="436.7" r="4.75"/><circle cx="499.3" cy="437.2" r="4.75"/><circle cx="500.8" cy="437.8" r="4.75"/><circle cx="502.3" cy="438.4" r="4.75"/><circle cx="503.7" cy="438.8" r="4.75"/><circle cx="505.2" cy="438.5" r="4.75"/><circle cx="506.7" cy="439.2" r="4.75"/><circle cx="508.2" cy="439.0" r="4.75"/><circle cx="509.6" cy="438.6" r="4.75"/><circle cx="511.1" cy="439.9" r="4.75"/><circle cx="512.6" cy="439.7" r="4.75"/><circle cx="514.1" cy="440.2" r="4.75"/><circle cx="515.5" cy="440.9" r="4.75"/><circle cx="517.0" cy="441.1" r="4.75"/><circle cx="518.5" cy="440.6" r="4.75"/><circle cx="520.0" cy="440.5" r="4.75"/><circle cx="521.4" cy="440.9" r="4.75"/><circle cx="522.9" cy="442.0" r="4.75"/><circle cx="524.4" cy="441.9" r="4.75"/><circle cx="525.9" cy="441.8" r="4.75"/><circle cx="527.3" cy="442.2" r="4.75"/><circle cx="528.8" cy="443.2" r="4.75"/><circle cx="530.3" cy="443.0" r="4.75"/><circle cx="531.0" cy="443.2" r="4.75"/><circle cx="97.5" cy="326.5" r="4.75"/><circle cx="532.0" cy="437.5" r="4.75"/></g>

<rect x="63.0" y="6.8" width="468.0" height="227.79999999999998" fill="none" stroke="#000" stroke-width="1.9"/>
<line x1="101.88" y1="234.6" x2="101.88" y2="232.7" stroke="#000" stroke-width="1.8"/>
<line x1="101.88" y1="6.8" x2="101.88" y2="8.7" stroke="#000" stroke-width="1.8"/>
<line x1="140.90" y1="234.6" x2="140.90" y2="230.4" stroke="#000" stroke-width="1.8"/>
<line x1="140.90" y1="6.8" x2="140.90" y2="11.0" stroke="#000" stroke-width="1.8"/>
<line x1="179.92" y1="234.6" x2="179.92" y2="232.7" stroke="#000" stroke-width="1.8"/>
<line x1="179.92" y1="6.8" x2="179.92" y2="8.7" stroke="#000" stroke-width="1.8"/>
<line x1="218.95" y1="234.6" x2="218.95" y2="230.4" stroke="#000" stroke-width="1.8"/>
<line x1="218.95" y1="6.8" x2="218.95" y2="11.0" stroke="#000" stroke-width="1.8"/>
<line x1="257.98" y1="234.6" x2="257.98" y2="232.7" stroke="#000" stroke-width="1.8"/>
<line x1="257.98" y1="6.8" x2="257.98" y2="8.7" stroke="#000" stroke-width="1.8"/>
<line x1="297.00" y1="234.6" x2="297.00" y2="230.4" stroke="#000" stroke-width="1.8"/>
<line x1="297.00" y1="6.8" x2="297.00" y2="11.0" stroke="#000" stroke-width="1.8"/>
<line x1="336.02" y1="234.6" x2="336.02" y2="232.7" stroke="#000" stroke-width="1.8"/>
<line x1="336.02" y1="6.8" x2="336.02" y2="8.7" stroke="#000" stroke-width="1.8"/>
<line x1="375.05" y1="234.6" x2="375.05" y2="230.4" stroke="#000" stroke-width="1.8"/>
<line x1="375.05" y1="6.8" x2="375.05" y2="11.0" stroke="#000" stroke-width="1.8"/>
<line x1="414.07" y1="234.6" x2="414.07" y2="232.7" stroke="#000" stroke-width="1.8"/>
<line x1="414.07" y1="6.8" x2="414.07" y2="8.7" stroke="#000" stroke-width="1.8"/>
<line x1="453.10" y1="234.6" x2="453.10" y2="230.4" stroke="#000" stroke-width="1.8"/>
<line x1="453.10" y1="6.8" x2="453.10" y2="11.0" stroke="#000" stroke-width="1.8"/>
<line x1="492.12" y1="234.6" x2="492.12" y2="232.7" stroke="#000" stroke-width="1.8"/>
<line x1="492.12" y1="6.8" x2="492.12" y2="8.7" stroke="#000" stroke-width="1.8"/>
<line x1="63.0" y1="215.50" x2="64.9" y2="215.50" stroke="#000" stroke-width="1.8"/>
<line x1="531.0" y1="215.50" x2="529.1" y2="215.50" stroke="#000" stroke-width="1.8"/>
<line x1="63.0" y1="196.50" x2="67.2" y2="196.50" stroke="#000" stroke-width="1.8"/>
<line x1="531.0" y1="196.50" x2="526.8" y2="196.50" stroke="#000" stroke-width="1.8"/>
<line x1="63.0" y1="177.50" x2="64.9" y2="177.50" stroke="#000" stroke-width="1.8"/>
<line x1="531.0" y1="177.50" x2="529.1" y2="177.50" stroke="#000" stroke-width="1.8"/>
<line x1="63.0" y1="158.50" x2="67.2" y2="158.50" stroke="#000" stroke-width="1.8"/>
<line x1="531.0" y1="158.50" x2="526.8" y2="158.50" stroke="#000" stroke-width="1.8"/>
<line x1="63.0" y1="139.50" x2="64.9" y2="139.50" stroke="#000" stroke-width="1.8"/>
<line x1="531.0" y1="139.50" x2="529.1" y2="139.50" stroke="#000" stroke-width="1.8"/>
<line x1="63.0" y1="120.50" x2="67.2" y2="120.50" stroke="#000" stroke-width="1.8"/>
<line x1="531.0" y1="120.50" x2="526.8" y2="120.50" stroke="#000" stroke-width="1.8"/>
<line x1="63.0" y1="101.50" x2="64.9" y2="101.50" stroke="#000" stroke-width="1.8"/>
<line x1="531.0" y1="101.50" x2="529.1" y2="101.50" stroke="#000" stroke-width="1.8"/>
<line x1="63.0" y1="82.50" x2="67.2" y2="82.50" stroke="#000" stroke-width="1.8"/>
<line x1="531.0" y1="82.50" x2="526.8" y2="82.50" stroke="#000" stroke-width="1.8"/>
<line x1="63.0" y1="63.50" x2="64.9" y2="63.50" stroke="#000" stroke-width="1.8"/>
<line x1="531.0" y1="63.50" x2="529.1" y2="63.50" stroke="#000" stroke-width="1.8"/>
<line x1="63.0" y1="44.50" x2="67.2" y2="44.50" stroke="#000" stroke-width="1.8"/>
<line x1="531.0" y1="44.50" x2="526.8" y2="44.50" stroke="#000" stroke-width="1.8"/>
<line x1="63.0" y1="25.50" x2="64.9" y2="25.50" stroke="#000" stroke-width="1.8"/>
<line x1="531.0" y1="25.50" x2="529.1" y2="25.50" stroke="#000" stroke-width="1.8"/>
<text x="57.4" y="12.8" text-anchor="end">1.05</text>
<text x="57.4" y="50.8" text-anchor="end">1.00</text>
<text x="57.4" y="88.8" text-anchor="end">0.95</text>
<text x="57.4" y="126.8" text-anchor="end">0.90</text>
<text x="57.4" y="164.8" text-anchor="end">0.85</text>
<text x="57.4" y="202.8" text-anchor="end">0.80</text>
<text x="57.4" y="240.8" text-anchor="end">0.75</text>
<rect x="63.0" y="252.6" width="468.0" height="228.00000000000003" fill="none" stroke="#000" stroke-width="1.9"/>
<line x1="101.88" y1="480.6" x2="101.88" y2="478.70000000000005" stroke="#000" stroke-width="1.8"/>
<line x1="101.88" y1="252.6" x2="101.88" y2="254.5" stroke="#000" stroke-width="1.8"/>
<line x1="140.90" y1="480.6" x2="140.90" y2="476.40000000000003" stroke="#000" stroke-width="1.8"/>
<line x1="140.90" y1="252.6" x2="140.90" y2="256.8" stroke="#000" stroke-width="1.8"/>
<line x1="179.92" y1="480.6" x2="179.92" y2="478.70000000000005" stroke="#000" stroke-width="1.8"/>
<line x1="179.92" y1="252.6" x2="179.92" y2="254.5" stroke="#000" stroke-width="1.8"/>
<line x1="218.95" y1="480.6" x2="218.95" y2="476.40000000000003" stroke="#000" stroke-width="1.8"/>
<line x1="218.95" y1="252.6" x2="218.95" y2="256.8" stroke="#000" stroke-width="1.8"/>
<line x1="257.98" y1="480.6" x2="257.98" y2="478.70000000000005" stroke="#000" stroke-width="1.8"/>
<line x1="257.98" y1="252.6" x2="257.98" y2="254.5" stroke="#000" stroke-width="1.8"/>
<line x1="297.00" y1="480.6" x2="297.00" y2="476.40000000000003" stroke="#000" stroke-width="1.8"/>
<line x1="297.00" y1="252.6" x2="297.00" y2="256.8" stroke="#000" stroke-width="1.8"/>
<line x1="336.02" y1="480.6" x2="336.02" y2="478.70000000000005" stroke="#000" stroke-width="1.8"/>
<line x1="336.02" y1="252.6" x2="336.02" y2="254.5" stroke="#000" stroke-width="1.8"/>
<line x1="375.05" y1="480.6" x2="375.05" y2="476.40000000000003" stroke="#000" stroke-width="1.8"/>
<line x1="375.05" y1="252.6" x2="375.05" y2="256.8" stroke="#000" stroke-width="1.8"/>
<line x1="414.07" y1="480.6" x2="414.07" y2="478.70000000000005" stroke="#000" stroke-width="1.8"/>
<line x1="414.07" y1="252.6" x2="414.07" y2="254.5" stroke="#000" stroke-width="1.8"/>
<line x1="453.10" y1="480.6" x2="453.10" y2="476.40000000000003" stroke="#000" stroke-width="1.8"/>
<line x1="453.10" y1="252.6" x2="453.10" y2="256.8" stroke="#000" stroke-width="1.8"/>
<line x1="492.12" y1="480.6" x2="492.12" y2="478.70000000000005" stroke="#000" stroke-width="1.8"/>
<line x1="492.12" y1="252.6" x2="492.12" y2="254.5" stroke="#000" stroke-width="1.8"/>
<line x1="63.0" y1="455.65" x2="64.9" y2="455.65" stroke="#000" stroke-width="1.8"/>
<line x1="531.0" y1="455.65" x2="529.1" y2="455.65" stroke="#000" stroke-width="1.8"/>
<line x1="63.0" y1="430.90" x2="67.2" y2="430.90" stroke="#000" stroke-width="1.8"/>
<line x1="531.0" y1="430.90" x2="526.8" y2="430.90" stroke="#000" stroke-width="1.8"/>
<line x1="63.0" y1="406.15" x2="64.9" y2="406.15" stroke="#000" stroke-width="1.8"/>
<line x1="531.0" y1="406.15" x2="529.1" y2="406.15" stroke="#000" stroke-width="1.8"/>
<line x1="63.0" y1="381.40" x2="67.2" y2="381.40" stroke="#000" stroke-width="1.8"/>
<line x1="531.0" y1="381.40" x2="526.8" y2="381.40" stroke="#000" stroke-width="1.8"/>
<line x1="63.0" y1="356.65" x2="64.9" y2="356.65" stroke="#000" stroke-width="1.8"/>
<line x1="531.0" y1="356.65" x2="529.1" y2="356.65" stroke="#000" stroke-width="1.8"/>
<line x1="63.0" y1="331.90" x2="67.2" y2="331.90" stroke="#000" stroke-width="1.8"/>
<line x1="531.0" y1="331.90" x2="526.8" y2="331.90" stroke="#000" stroke-width="1.8"/>
<line x1="63.0" y1="307.15" x2="64.9" y2="307.15" stroke="#000" stroke-width="1.8"/>
<line x1="531.0" y1="307.15" x2="529.1" y2="307.15" stroke="#000" stroke-width="1.8"/>
<line x1="63.0" y1="282.40" x2="67.2" y2="282.40" stroke="#000" stroke-width="1.8"/>
<line x1="531.0" y1="282.40" x2="526.8" y2="282.40" stroke="#000" stroke-width="1.8"/>
<line x1="63.0" y1="257.65" x2="64.9" y2="257.65" stroke="#000" stroke-width="1.8"/>
<line x1="531.0" y1="257.65" x2="529.1" y2="257.65" stroke="#000" stroke-width="1.8"/>
<text x="57.4" y="288.7" text-anchor="end">1.00</text>
<text x="57.4" y="338.2" text-anchor="end">0.95</text>
<text x="57.4" y="387.7" text-anchor="end">0.90</text>
<text x="57.4" y="437.2" text-anchor="end">0.85</text>
<text x="57.4" y="486.7" text-anchor="end">0.80</text>
<text x="62.9" y="498.4" text-anchor="middle">0</text><text x="140.9" y="498.4" text-anchor="middle">1000</text><text x="218.9" y="498.4" text-anchor="middle">2000</text><text x="297.0" y="498.4" text-anchor="middle">3000</text><text x="375.1" y="498.4" text-anchor="middle">4000</text><text x="453.1" y="498.4" text-anchor="middle">5000</text><text x="531.1" y="498.4" text-anchor="middle">6000</text>
<circle cx="81.7" cy="146.3" r="4.7" fill="#3a7fc1"/>
<text x="101.8" y="150.6" font-size="15.7">NMC532/AG C/3:C/3</text>
<circle cx="81.7" cy="163.9" r="4.7" fill="#242424"/>
<text x="101.8" y="168.2" font-size="15.7">LFP/AG C/3:C/3</text>
<circle cx="81.7" cy="181.4" r="4.7" fill="#ff0000"/>
<text x="101.8" y="185.7" font-size="15.7">Vendor 1 LFP (45°C) 1C:1C</text>
<circle cx="81.7" cy="199.0" r="4.7" fill="#008000"/>
<text x="101.8" y="203.3" font-size="15.7">Vendor 2 LFP (45°C) 1C:1C</text>
<circle cx="81.7" cy="216.5" r="4.7" fill="#ec8a63"/>
<text x="101.8" y="220.8" font-size="15.7">Vendor 3 LFP</text>
<circle cx="81.7" cy="427.7" r="4.7" fill="#3a7fc1"/>
<text x="101.8" y="432.0" font-size="15.7">NMC532/AG C/3:C/3</text>
<circle cx="81.7" cy="445.2" r="4.7" fill="#242424"/>
<text x="101.8" y="449.6" font-size="15.7">LFP/AG C/3:C/3</text>
<circle cx="81.7" cy="462.8" r="4.7" fill="#ff0000"/>
<text x="101.8" y="467.1" font-size="15.7">Vendor 1 LFP (60°C) 1C:1C</text>
<text x="72" y="27" font-weight="bold">a</text>
<text x="72.3" y="273.2" font-weight="bold">b</text>
<text x="522.6" y="27.4" font-weight="bold" text-anchor="end">40°C</text>
<text x="522.6" y="273" font-weight="bold" text-anchor="end">55°C</text>
<text x="297.5" y="519.3" text-anchor="middle">Time / hr</text>
<text transform="translate(13.7,121.8) rotate(-90)" text-anchor="middle" font-size="17">Norm. capacity</text>
<text transform="translate(13.7,367.6) rotate(-90)" text-anchor="middle" font-size="17">Norm. capacity</text>
</svg>
</body></html>
